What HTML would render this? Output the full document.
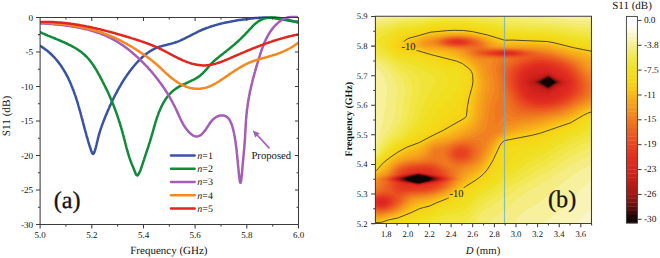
<!DOCTYPE html><html><head><meta charset="utf-8"><style>html,body{margin:0;padding:0;background:#fff;overflow:hidden}svg{display:block}text{font-family:"Liberation Serif",serif;fill:#141414;stroke:#141414;stroke-width:0px;text-rendering:geometricPrecision}</style></head><body>
<svg width="660" height="258" viewBox="0 0 660 258">
<defs><clipPath id="ca"><rect x="40" y="15.5" width="258" height="208.5"/></clipPath><clipPath id="cb"><rect x="375.5" y="16.5" width="216.1" height="207.1"/></clipPath></defs>
<g clip-path="url(#ca)" fill="none" stroke-width="2.5" stroke-linejoin="round" stroke-linecap="round">
<path stroke="#3953a4" d="M39.9 45.7 L41.0 46.4 L42.2 47.1 L43.3 47.9 L44.5 48.7 L45.5 49.5 L46.6 50.3 L47.7 51.1 L48.7 52.0 L49.7 52.9 L50.7 53.8 L51.7 54.7 L52.6 55.6 L53.5 56.6 L54.4 57.5 L55.3 58.5 L56.2 59.5 L57.0 60.5 L57.9 61.6 L58.7 62.6 L59.5 63.7 L60.3 64.8 L61.0 65.8 L61.8 67.0 L62.5 68.1 L63.2 69.2 L63.9 70.3 L64.6 71.5 L65.3 72.6 L65.9 73.8 L66.5 75.0 L67.2 76.2 L67.8 77.3 L68.4 78.5 L68.9 79.8 L69.5 81.0 L70.1 82.2 L70.6 83.4 L71.1 84.6 L71.6 85.9 L72.1 87.1 L72.6 88.4 L73.1 89.6 L73.6 90.8 L74.0 92.1 L74.5 93.4 L74.9 94.6 L75.4 95.9 L75.8 97.1 L76.2 98.4 L76.6 99.7 L77.0 100.9 L77.4 102.2 L77.8 103.5 L78.2 104.8 L78.5 106.0 L78.9 107.3 L79.3 108.6 L79.6 109.9 L80.0 111.2 L80.4 112.4 L80.7 113.7 L81.0 115.0 L81.4 116.3 L81.7 117.6 L82.1 118.9 L82.4 120.2 L82.8 121.5 L83.1 122.8 L83.5 124.1 L83.8 125.4 L84.1 126.7 L84.5 128.0 L84.8 129.3 L85.2 130.6 L85.5 131.9 L85.9 133.2 L86.3 134.5 L86.6 135.8 L87.0 137.1 L87.4 138.4 L87.8 139.7 L88.1 141.0 L88.5 142.3 L88.9 143.6 L89.3 145.0 L89.7 146.3 L90.2 147.6 L90.6 148.9 L91.0 150.3 L91.5 151.5 L91.9 152.6 L92.4 153.5 L93.0 154.0 L93.7 153.4 L94.2 152.6 L94.6 151.5 L95.0 150.2 L95.4 148.9 L95.8 147.6 L96.1 146.2 L96.5 144.8 L96.8 143.4 L97.1 142.0 L97.5 140.6 L97.8 139.3 L98.1 137.9 L98.5 136.5 L98.9 135.2 L99.2 133.9 L99.6 132.6 L100.0 131.3 L100.4 130.0 L100.8 128.7 L101.3 127.4 L101.7 126.2 L102.1 124.9 L102.6 123.7 L103.1 122.4 L103.5 121.2 L104.0 120.0 L104.5 118.7 L105.0 117.5 L105.5 116.3 L106.0 115.1 L106.5 113.9 L107.0 112.7 L107.5 111.5 L108.0 110.3 L108.6 109.1 L109.1 107.9 L109.6 106.6 L110.2 105.4 L110.8 104.2 L111.3 103.0 L111.9 101.8 L112.4 100.6 L113.0 99.4 L113.6 98.2 L114.2 97.0 L114.8 95.8 L115.4 94.6 L116.0 93.5 L116.7 92.3 L117.3 91.1 L117.9 89.9 L118.6 88.7 L119.2 87.6 L119.9 86.4 L120.6 85.3 L121.2 84.1 L121.9 83.0 L122.6 81.8 L123.3 80.7 L124.1 79.5 L124.8 78.4 L125.5 77.3 L126.3 76.2 L127.0 75.1 L127.8 74.0 L128.6 72.9 L129.4 71.8 L130.2 70.7 L131.0 69.7 L131.8 68.6 L132.7 67.6 L133.5 66.5 L134.4 65.5 L135.2 64.5 L136.1 63.5 L137.0 62.5 L137.9 61.5 L138.9 60.5 L139.8 59.6 L140.7 58.6 L141.7 57.7 L142.7 56.8 L143.7 56.0 L144.7 55.1 L145.7 54.3 L146.8 53.5 L147.9 52.7 L148.9 52.0 L150.0 51.2 L151.2 50.6 L152.3 49.9 L153.5 49.3 L154.7 48.7 L155.9 48.2 L157.1 47.7 L158.3 47.2 L159.6 46.8 L160.9 46.4 L162.2 46.0 L163.5 45.6 L164.8 45.3 L166.1 45.0 L167.4 44.6 L168.7 44.3 L170.0 44.0 L171.3 43.6 L172.6 43.3 L173.9 42.9 L175.2 42.5 L176.5 42.0 L177.7 41.6 L179.0 41.1 L180.2 40.6 L181.4 40.0 L182.6 39.5 L183.8 38.9 L185.0 38.3 L186.2 37.7 L187.4 37.1 L188.6 36.5 L189.8 35.9 L190.9 35.3 L192.1 34.7 L193.3 34.1 L194.5 33.5 L195.7 32.8 L196.8 32.3 L198.0 31.7 L199.2 31.1 L200.5 30.5 L201.7 30.0 L202.9 29.5 L204.1 29.0 L205.4 28.5 L206.6 28.0 L207.9 27.6 L209.2 27.1 L210.4 26.7 L211.7 26.3 L213.0 25.9 L214.3 25.5 L215.6 25.1 L216.9 24.7 L218.2 24.4 L219.4 24.0 L220.7 23.7 L222.0 23.4 L223.3 23.1 L224.6 22.8 L225.9 22.5 L227.3 22.2 L228.6 22.0 L229.9 21.7 L231.2 21.5 L232.5 21.2 L233.8 21.0 L235.1 20.8 L236.4 20.5 L237.7 20.3 L239.0 20.1 L240.3 19.9 L241.7 19.7 L243.0 19.5 L244.3 19.4 L245.6 19.2 L246.9 19.0 L248.3 18.9 L249.6 18.7 L250.9 18.6 L252.3 18.4 L253.6 18.3 L254.9 18.1 L256.3 18.0 L257.6 17.9 L259.0 17.8 L260.3 17.7 L261.6 17.7 L263.0 17.6 L264.3 17.6 L265.6 17.6 L267.0 17.6 L268.3 17.7 L269.6 17.7 L271.0 17.8 L272.3 17.9 L273.6 18.1 L274.9 18.3 L276.2 18.5 L277.6 18.7 L278.9 18.9 L280.2 19.1 L281.5 19.3 L282.8 19.6 L284.1 19.8 L285.4 20.1 L286.8 20.3 L288.1 20.5 L289.4 20.7 L290.7 20.9 L292.0 21.1 L293.3 21.3 L294.7 21.4 L296.0 21.5 L297.3 21.6 L298.0 21.7"/>
<path stroke="#0f8b3a" d="M40.3 32.2 L41.5 32.8 L42.7 33.4 L44.0 33.9 L45.2 34.5 L46.5 35.0 L47.8 35.6 L49.1 36.1 L50.4 36.6 L51.8 37.2 L53.1 37.7 L54.4 38.3 L55.8 38.8 L57.1 39.4 L58.5 39.9 L59.8 40.5 L61.2 41.1 L62.5 41.7 L63.9 42.2 L65.2 42.9 L66.6 43.5 L67.9 44.1 L69.2 44.8 L70.5 45.4 L71.8 46.1 L73.1 46.8 L74.3 47.5 L75.6 48.2 L76.8 49.0 L78.0 49.8 L79.2 50.6 L80.4 51.4 L81.5 52.3 L82.6 53.1 L83.7 54.1 L84.7 55.0 L85.7 56.0 L86.7 56.9 L87.7 58.0 L88.6 59.0 L89.5 60.1 L90.4 61.2 L91.2 62.3 L92.1 63.4 L92.9 64.6 L93.7 65.8 L94.5 67.0 L95.2 68.2 L96.0 69.4 L96.7 70.6 L97.4 71.8 L98.1 73.1 L98.8 74.4 L99.5 75.6 L100.2 76.9 L100.8 78.2 L101.5 79.4 L102.2 80.7 L102.8 82.0 L103.5 83.3 L104.1 84.6 L104.8 85.8 L105.4 87.1 L106.0 88.4 L106.7 89.7 L107.3 91.0 L107.9 92.3 L108.5 93.6 L109.1 94.9 L109.7 96.2 L110.3 97.5 L110.8 98.8 L111.4 100.2 L112.0 101.5 L112.5 102.8 L113.1 104.1 L113.6 105.5 L114.1 106.8 L114.6 108.1 L115.1 109.5 L115.6 110.8 L116.1 112.2 L116.6 113.5 L117.1 114.9 L117.5 116.2 L118.0 117.6 L118.4 118.9 L118.9 120.3 L119.3 121.7 L119.7 123.0 L120.2 124.4 L120.6 125.8 L121.0 127.1 L121.4 128.5 L121.8 129.9 L122.2 131.3 L122.6 132.6 L122.9 134.0 L123.3 135.4 L123.7 136.8 L124.0 138.1 L124.4 139.5 L124.8 140.9 L125.1 142.3 L125.5 143.7 L125.8 145.1 L126.2 146.4 L126.5 147.8 L126.9 149.2 L127.3 150.6 L127.7 151.9 L128.1 153.3 L128.5 154.7 L128.9 156.0 L129.3 157.4 L129.8 158.8 L130.3 160.1 L130.8 161.5 L131.3 162.8 L131.8 164.2 L132.4 165.5 L133.0 166.9 L133.5 168.3 L134.1 169.7 L134.7 171.2 L135.2 172.6 L135.8 174.0 L136.3 175.0 L137.3 175.5 L137.9 175.0 L138.6 174.0 L139.3 172.6 L140.0 171.2 L140.6 169.7 L141.1 168.2 L141.7 166.8 L142.1 165.3 L142.6 163.9 L143.1 162.4 L143.5 161.0 L144.0 159.6 L144.4 158.3 L144.9 156.9 L145.3 155.6 L145.8 154.2 L146.2 152.9 L146.6 151.6 L147.1 150.3 L147.5 149.0 L148.0 147.7 L148.4 146.4 L148.8 145.1 L149.2 143.7 L149.7 142.4 L150.1 141.1 L150.5 139.7 L150.9 138.4 L151.3 137.0 L151.7 135.6 L152.1 134.2 L152.5 132.9 L152.9 131.4 L153.3 130.0 L153.7 128.6 L154.1 127.2 L154.5 125.8 L154.9 124.4 L155.3 123.0 L155.7 121.5 L156.2 120.1 L156.6 118.7 L157.1 117.3 L157.6 115.9 L158.1 114.6 L158.6 113.2 L159.1 111.8 L159.7 110.5 L160.2 109.2 L160.8 107.9 L161.4 106.6 L162.1 105.3 L162.7 104.0 L163.4 102.8 L164.1 101.6 L164.9 100.4 L165.6 99.2 L166.4 98.1 L167.2 97.0 L168.1 95.9 L169.0 94.8 L169.9 93.8 L170.9 92.8 L171.9 91.9 L172.9 90.9 L174.0 90.1 L175.1 89.2 L176.3 88.4 L177.5 87.6 L178.7 86.9 L180.0 86.2 L181.3 85.5 L182.6 84.9 L183.9 84.2 L185.3 83.6 L186.6 83.0 L188.0 82.4 L189.3 81.7 L190.7 81.1 L192.0 80.4 L193.3 79.8 L194.6 79.1 L195.9 78.4 L197.1 77.7 L198.3 76.9 L199.5 76.1 L200.6 75.2 L201.6 74.3 L202.7 73.4 L203.6 72.4 L204.6 71.4 L205.5 70.3 L206.4 69.3 L207.4 68.2 L208.3 67.1 L209.2 66.0 L210.1 65.0 L211.1 63.9 L212.1 62.9 L213.1 61.9 L214.2 60.9 L215.3 59.9 L216.4 59.0 L217.6 58.1 L218.7 57.1 L219.9 56.2 L221.0 55.3 L222.1 54.4 L223.3 53.5 L224.4 52.6 L225.5 51.8 L226.6 50.9 L227.7 50.0 L228.8 49.1 L229.9 48.2 L231.0 47.3 L232.1 46.4 L233.2 45.5 L234.3 44.6 L235.3 43.7 L236.4 42.7 L237.5 41.8 L238.5 40.8 L239.5 39.9 L240.6 38.9 L241.6 37.9 L242.6 36.9 L243.6 35.9 L244.7 34.8 L245.7 33.7 L246.7 32.7 L247.7 31.6 L248.7 30.5 L249.7 29.4 L250.7 28.3 L251.7 27.3 L252.7 26.2 L253.7 25.2 L254.8 24.2 L255.9 23.3 L257.0 22.4 L258.1 21.6 L259.2 20.8 L260.4 20.1 L261.6 19.5 L262.9 19.0 L264.1 18.5 L265.4 18.2 L266.8 17.9 L268.2 17.7 L269.6 17.5 L271.0 17.4 L272.4 17.4 L273.9 17.5 L275.3 17.5 L276.8 17.7 L278.3 17.9 L279.8 18.1 L281.3 18.4 L282.7 18.7 L284.2 19.0 L285.7 19.3 L287.1 19.7 L288.6 20.0 L290.0 20.4 L291.3 20.8 L292.7 21.2 L294.0 21.6 L295.3 21.9 L296.6 22.3 L297.8 22.6 L297.8 22.6"/>
<path stroke="#a65db5" d="M40.0 23.3 L40.9 23.4 L41.7 23.4 L42.5 23.5 L43.3 23.5 L44.1 23.6 L45.0 23.6 L45.8 23.7 L46.6 23.7 L47.5 23.8 L48.3 23.8 L49.1 23.9 L50.0 23.9 L50.8 24.0 L51.6 24.1 L52.5 24.1 L53.3 24.2 L54.1 24.3 L55.0 24.4 L55.8 24.4 L56.7 24.5 L57.5 24.6 L58.3 24.7 L59.2 24.8 L60.0 24.8 L60.9 24.9 L61.7 25.0 L62.6 25.1 L63.4 25.2 L64.2 25.3 L65.1 25.4 L65.9 25.5 L66.8 25.7 L67.6 25.8 L68.5 25.9 L69.3 26.0 L70.1 26.1 L71.0 26.3 L71.8 26.4 L72.7 26.5 L73.5 26.7 L74.3 26.8 L75.2 26.9 L76.0 27.1 L76.8 27.3 L77.7 27.4 L78.5 27.6 L79.4 27.7 L80.2 27.9 L81.0 28.1 L81.8 28.3 L82.7 28.4 L83.5 28.6 L84.3 28.8 L85.2 29.0 L86.0 29.2 L86.8 29.4 L87.6 29.6 L88.4 29.8 L89.3 30.1 L90.1 30.3 L90.9 30.5 L91.7 30.7 L92.5 31.0 L93.3 31.2 L94.1 31.5 L94.9 31.7 L95.7 32.0 L96.5 32.3 L97.3 32.5 L98.1 32.8 L98.9 33.1 L99.7 33.4 L100.5 33.7 L101.3 34.0 L102.1 34.3 L102.8 34.6 L103.6 34.9 L104.4 35.2 L105.2 35.5 L105.9 35.9 L106.7 36.2 L107.4 36.6 L108.2 36.9 L109.0 37.3 L109.7 37.6 L110.5 38.0 L111.2 38.4 L112.0 38.8 L112.7 39.2 L113.4 39.6 L114.2 40.0 L114.9 40.4 L115.6 40.8 L116.3 41.2 L117.1 41.7 L117.8 42.1 L118.5 42.5 L119.2 43.0 L119.9 43.4 L120.6 43.9 L121.3 44.4 L122.0 44.8 L122.7 45.3 L123.4 45.8 L124.1 46.3 L124.8 46.8 L125.4 47.3 L126.1 47.8 L126.8 48.3 L127.4 48.8 L128.1 49.3 L128.8 49.8 L129.4 50.3 L130.1 50.9 L130.8 51.4 L131.4 51.9 L132.1 52.5 L132.7 53.0 L133.3 53.6 L134.0 54.1 L134.6 54.7 L135.2 55.2 L135.9 55.8 L136.5 56.4 L137.1 56.9 L137.8 57.5 L138.4 58.1 L139.0 58.6 L139.6 59.2 L140.2 59.8 L140.8 60.4 L141.4 61.0 L142.0 61.6 L142.6 62.2 L143.2 62.8 L143.8 63.4 L144.4 64.0 L145.0 64.6 L145.6 65.2 L146.1 65.8 L146.7 66.4 L147.3 67.0 L147.9 67.6 L148.4 68.3 L149.0 68.9 L149.6 69.5 L150.1 70.1 L150.7 70.8 L151.2 71.4 L151.8 72.0 L152.3 72.7 L152.9 73.3 L153.4 74.0 L153.9 74.6 L154.5 75.2 L155.0 75.9 L155.5 76.6 L156.0 77.2 L156.6 77.9 L157.1 78.5 L157.6 79.2 L158.1 79.9 L158.6 80.5 L159.1 81.2 L159.6 81.9 L160.1 82.6 L160.6 83.2 L161.1 83.9 L161.6 84.6 L162.1 85.3 L162.6 86.0 L163.0 86.7 L163.5 87.4 L164.0 88.1 L164.4 88.7 L164.9 89.5 L165.4 90.2 L165.8 90.9 L166.3 91.6 L166.7 92.3 L167.2 93.0 L167.6 93.7 L168.0 94.4 L168.5 95.1 L168.9 95.9 L169.3 96.6 L169.8 97.3 L170.2 98.1 L170.6 98.8 L171.0 99.5 L171.4 100.3 L171.8 101.0 L172.2 101.7 L172.6 102.5 L173.0 103.2 L173.4 104.0 L173.8 104.7 L174.2 105.5 L174.6 106.3 L174.9 107.0 L175.3 107.8 L175.7 108.5 L176.1 109.3 L176.4 110.1 L176.8 110.8 L177.1 111.6 L177.5 112.4 L177.8 113.2 L178.2 113.9 L178.5 114.7 L178.9 115.5 L179.2 116.3 L179.6 117.0 L179.9 117.8 L180.3 118.6 L180.7 119.3 L181.0 120.1 L181.4 120.9 L181.8 121.6 L182.2 122.4 L182.6 123.1 L183.0 123.8 L183.4 124.6 L183.8 125.3 L184.3 126.0 L184.7 126.7 L185.2 127.4 L185.7 128.1 L186.2 128.8 L186.7 129.4 L187.2 130.1 L187.8 130.8 L188.3 131.4 L188.9 132.0 L189.5 132.6 L190.1 133.2 L190.7 133.8 L191.4 134.3 L192.0 134.8 L192.7 135.3 L194.1 136.0 L195.5 136.4 L196.9 136.5 L198.3 136.2 L199.7 135.6 L201.1 134.8 L201.7 134.2 L202.3 133.6 L203.0 133.0 L203.6 132.3 L204.1 131.6 L204.7 130.9 L205.2 130.2 L205.8 129.4 L206.3 128.7 L206.8 127.9 L207.3 127.1 L207.8 126.4 L208.3 125.6 L208.8 124.8 L209.3 124.1 L209.8 123.3 L210.3 122.6 L210.9 121.9 L211.4 121.2 L212.0 120.6 L212.6 119.9 L213.2 119.3 L213.9 118.7 L214.5 118.2 L215.2 117.7 L215.9 117.2 L216.6 116.8 L217.3 116.5 L218.1 116.2 L218.9 115.9 L220.4 115.5 L222.0 115.4 L223.5 115.5 L224.9 115.9 L226.3 116.5 L227.5 117.4 L228.6 118.5 L229.1 119.2 L229.5 119.9 L230.0 120.6 L230.4 121.4 L230.7 122.2 L231.1 123.0 L231.4 123.9 L231.8 124.7 L232.1 125.6 L232.3 126.4 L232.6 127.3 L232.8 128.2 L233.1 129.0 L233.3 129.9 L233.5 130.8 L233.7 131.6 L233.9 132.5 L234.1 133.3 L234.2 134.2 L234.4 135.1 L234.6 135.9 L234.7 136.7 L234.8 137.6 L235.0 138.4 L235.1 139.2 L235.2 140.0 L235.4 140.8 L235.5 141.7 L235.6 142.5 L235.7 143.3 L235.8 144.1 L235.9 144.9 L236.1 146.4 L236.3 148.0 L236.5 149.6 L236.7 151.1 L236.8 152.7 L237.0 154.3 L237.1 155.1 L237.2 155.9 L237.3 156.7 L237.3 157.5 L237.4 158.3 L237.5 159.2 L237.6 160.1 L237.7 160.9 L237.8 161.8 L237.9 162.7 L237.9 163.7 L238.0 164.6 L238.1 165.6 L238.2 166.6 L238.3 167.6 L238.4 168.6 L238.5 169.7 L238.6 170.8 L238.7 171.8 L238.8 172.9 L238.9 174.0 L239.0 175.0 L239.2 176.1 L239.3 177.0 L239.4 178.0 L239.5 178.9 L239.6 179.7 L239.8 181.1 L240.1 182.1 L240.5 182.8 L240.8 182.0 L241.1 180.9 L241.3 179.5 L241.4 178.6 L241.5 177.7 L241.6 176.8 L241.7 175.8 L241.8 174.8 L241.9 173.7 L242.0 172.6 L242.1 171.6 L242.2 170.5 L242.3 169.4 L242.4 168.3 L242.5 167.3 L242.6 166.3 L242.6 165.2 L242.7 164.3 L242.8 163.3 L242.9 162.3 L243.0 161.4 L243.1 160.5 L243.2 159.5 L243.3 158.7 L243.3 157.8 L243.4 156.9 L243.5 156.0 L243.6 155.2 L243.6 154.4 L243.7 153.5 L243.8 152.7 L243.9 151.9 L243.9 151.1 L244.0 150.3 L244.2 148.7 L244.3 147.1 L244.4 145.6 L244.5 144.0 L244.7 142.5 L244.8 141.0 L244.9 139.4 L245.0 137.8 L245.1 136.2 L245.1 135.4 L245.2 134.6 L245.2 133.8 L245.3 132.9 L245.3 132.1 L245.4 131.2 L245.4 130.4 L245.5 129.5 L245.5 128.7 L245.6 127.8 L245.6 126.9 L245.7 126.0 L245.7 125.2 L245.8 124.3 L245.8 123.4 L245.9 122.5 L245.9 121.7 L246.0 120.8 L246.0 119.9 L246.1 119.1 L246.2 118.2 L246.3 117.3 L246.3 116.5 L246.4 115.6 L246.5 114.8 L246.6 113.9 L246.7 113.1 L246.8 112.2 L246.8 111.4 L246.9 110.6 L247.0 109.7 L247.1 108.9 L247.3 108.0 L247.4 107.2 L247.5 106.4 L247.6 105.5 L247.7 104.7 L247.8 103.9 L248.0 103.1 L248.1 102.2 L248.2 101.4 L248.4 100.6 L248.5 99.8 L248.6 99.0 L248.8 98.1 L248.9 97.3 L249.1 96.5 L249.2 95.7 L249.4 94.9 L249.6 94.1 L249.7 93.2 L249.9 92.4 L250.0 91.6 L250.2 90.8 L250.4 90.0 L250.6 89.2 L250.8 88.4 L250.9 87.5 L251.1 86.7 L251.3 85.9 L251.5 85.1 L251.7 84.3 L251.9 83.5 L252.1 82.7 L252.3 81.8 L252.5 81.0 L252.7 80.2 L252.9 79.4 L253.1 78.6 L253.3 77.8 L253.5 77.0 L253.8 76.2 L254.0 75.3 L254.2 74.5 L254.4 73.7 L254.6 72.9 L254.9 72.1 L255.1 71.3 L255.3 70.5 L255.6 69.7 L255.8 68.9 L256.0 68.0 L256.3 67.2 L256.5 66.4 L256.7 65.6 L257.0 64.8 L257.2 64.0 L257.4 63.2 L257.7 62.4 L257.9 61.6 L258.2 60.8 L258.4 59.9 L258.7 59.1 L258.9 58.3 L259.2 57.5 L259.4 56.7 L259.7 55.9 L259.9 55.1 L260.2 54.3 L260.4 53.5 L260.7 52.7 L261.0 51.9 L261.2 51.1 L261.5 50.3 L261.8 49.5 L262.1 48.7 L262.4 47.9 L262.7 47.1 L263.0 46.3 L263.3 45.6 L263.6 44.8 L263.9 44.0 L264.2 43.2 L264.5 42.4 L264.9 41.7 L265.2 40.9 L265.6 40.2 L265.9 39.4 L266.3 38.6 L266.7 37.9 L267.1 37.2 L267.5 36.4 L267.9 35.7 L268.3 34.9 L268.7 34.2 L269.2 33.5 L269.6 32.8 L270.1 32.1 L270.5 31.4 L271.0 30.7 L271.5 30.0 L272.0 29.3 L272.5 28.6 L273.1 28.0 L273.6 27.3 L274.1 26.7 L274.7 26.0 L275.3 25.4 L275.9 24.8 L276.5 24.2 L277.1 23.7 L277.7 23.1 L278.3 22.6 L279.0 22.1 L279.6 21.6 L280.3 21.1 L281.0 20.6 L281.7 20.2 L282.4 19.7 L283.1 19.4 L283.8 19.0 L284.5 18.6 L285.3 18.3 L286.1 18.0 L286.8 17.7 L287.6 17.5 L288.4 17.3 L289.3 17.1 L290.1 17.0 L290.9 16.8 L291.8 16.8 L292.6 16.7 L293.5 16.7 L294.4 16.7 L295.3 16.7 L296.2 16.8 L297.2 16.9 L298.1 17.1 L298.1 17.1"/>
<path stroke="#f5891f" d="M40.0 22.6 L40.9 22.6 L41.9 22.7 L42.9 22.7 L43.8 22.8 L44.8 22.8 L45.7 22.9 L46.7 22.9 L47.7 23.0 L48.6 23.0 L49.6 23.1 L50.6 23.1 L51.5 23.2 L52.5 23.3 L53.4 23.3 L54.4 23.4 L55.4 23.5 L56.3 23.6 L57.3 23.7 L58.2 23.8 L59.2 23.8 L60.1 23.9 L61.1 24.0 L62.1 24.1 L63.0 24.3 L64.0 24.4 L64.9 24.5 L65.9 24.6 L66.8 24.7 L67.8 24.9 L68.7 25.0 L69.7 25.1 L70.6 25.3 L71.6 25.4 L72.5 25.6 L73.5 25.7 L74.4 25.9 L75.4 26.0 L76.3 26.2 L77.2 26.4 L78.2 26.5 L79.1 26.7 L80.1 26.9 L81.0 27.1 L81.9 27.3 L82.9 27.5 L83.8 27.7 L84.7 27.9 L85.7 28.1 L86.6 28.3 L87.5 28.5 L88.5 28.8 L89.4 29.0 L90.3 29.2 L91.2 29.5 L92.2 29.7 L93.1 30.0 L94.0 30.2 L94.9 30.5 L95.8 30.8 L96.7 31.1 L97.7 31.3 L98.6 31.6 L99.5 31.9 L100.4 32.2 L101.3 32.5 L102.2 32.8 L103.1 33.1 L104.0 33.5 L104.9 33.8 L105.8 34.1 L106.7 34.5 L107.6 34.8 L108.5 35.2 L109.4 35.5 L110.2 35.9 L111.1 36.2 L112.0 36.6 L112.9 37.0 L113.8 37.4 L114.6 37.8 L115.5 38.2 L116.4 38.6 L117.3 39.0 L118.1 39.4 L119.0 39.9 L119.9 40.3 L120.7 40.7 L121.6 41.2 L122.4 41.6 L123.3 42.1 L124.1 42.5 L125.0 43.0 L125.8 43.4 L126.7 43.9 L127.5 44.4 L128.4 44.9 L129.2 45.3 L130.0 45.8 L130.9 46.3 L131.7 46.8 L132.5 47.3 L133.3 47.8 L134.2 48.3 L135.0 48.8 L135.8 49.3 L136.6 49.9 L137.4 50.4 L138.2 50.9 L139.0 51.4 L139.8 51.9 L140.6 52.5 L141.4 53.0 L142.2 53.5 L143.0 54.1 L143.8 54.6 L144.6 55.1 L145.4 55.7 L146.2 56.2 L146.9 56.8 L147.7 57.4 L148.5 57.9 L149.2 58.5 L150.0 59.1 L150.7 59.6 L151.5 60.2 L152.2 60.8 L153.0 61.4 L153.7 62.0 L154.4 62.6 L155.1 63.2 L155.9 63.8 L156.6 64.4 L157.3 65.0 L158.0 65.7 L158.7 66.3 L159.4 67.0 L160.1 67.6 L160.8 68.2 L161.5 68.9 L162.1 69.6 L162.8 70.2 L163.5 70.9 L164.2 71.5 L164.9 72.2 L165.6 72.8 L166.3 73.5 L167.0 74.1 L167.8 74.8 L168.5 75.4 L169.2 76.0 L170.0 76.7 L170.7 77.3 L171.5 77.9 L172.2 78.5 L173.0 79.1 L173.8 79.7 L174.6 80.3 L175.4 80.8 L176.2 81.4 L177.0 81.9 L177.8 82.5 L178.7 83.0 L179.5 83.5 L180.4 84.0 L181.2 84.4 L182.1 84.9 L183.0 85.3 L183.8 85.7 L184.7 86.1 L185.6 86.5 L186.5 86.8 L187.4 87.1 L188.3 87.4 L189.2 87.7 L190.1 87.9 L191.0 88.1 L192.0 88.3 L192.9 88.5 L193.8 88.6 L194.7 88.7 L195.7 88.8 L196.6 88.8 L197.5 88.8 L198.5 88.8 L199.4 88.8 L200.3 88.7 L201.3 88.6 L202.2 88.5 L203.1 88.3 L204.0 88.1 L204.9 87.9 L205.9 87.7 L206.8 87.4 L207.6 87.1 L208.5 86.8 L209.4 86.5 L210.3 86.1 L211.2 85.7 L212.0 85.3 L212.9 84.9 L213.7 84.4 L214.6 84.0 L215.4 83.5 L216.3 83.0 L217.1 82.5 L217.9 82.0 L218.8 81.5 L219.6 80.9 L220.4 80.4 L221.2 79.9 L222.1 79.3 L222.9 78.8 L223.7 78.2 L224.5 77.7 L225.3 77.1 L226.1 76.6 L226.9 76.0 L227.7 75.5 L228.5 74.9 L229.3 74.4 L230.1 73.8 L230.9 73.3 L231.7 72.7 L232.5 72.2 L233.3 71.7 L234.1 71.1 L234.9 70.6 L235.7 70.1 L236.6 69.6 L237.4 69.1 L238.2 68.5 L239.0 68.0 L239.8 67.6 L240.6 67.1 L241.5 66.6 L242.3 66.1 L243.1 65.7 L243.9 65.2 L244.8 64.8 L245.6 64.3 L246.5 63.9 L247.3 63.5 L248.2 63.1 L249.1 62.7 L249.9 62.4 L250.8 62.0 L251.7 61.7 L252.6 61.3 L253.5 61.0 L254.4 60.7 L255.3 60.4 L256.2 60.1 L257.1 59.8 L258.0 59.5 L258.9 59.2 L259.9 59.0 L260.8 58.7 L261.7 58.5 L262.6 58.2 L263.6 57.9 L264.5 57.7 L265.4 57.4 L266.3 57.2 L267.3 56.9 L268.2 56.7 L269.1 56.4 L270.0 56.1 L271.0 55.9 L271.9 55.6 L272.8 55.3 L273.7 55.1 L274.6 54.8 L275.5 54.5 L276.4 54.2 L277.3 53.9 L278.2 53.5 L279.1 53.2 L280.0 52.9 L280.9 52.5 L281.7 52.2 L282.6 51.8 L283.5 51.4 L284.3 51.0 L285.2 50.6 L286.1 50.2 L286.9 49.8 L287.8 49.4 L288.6 48.9 L289.4 48.5 L290.3 48.0 L291.1 47.5 L291.9 47.0 L292.7 46.5 L293.6 46.0 L294.4 45.5 L295.2 44.9 L296.0 44.4 L296.8 43.8 L297.6 43.2 L298.0 42.9"/>
<path stroke="#e2261f" d="M40.0 21.9 L40.9 21.9 L41.8 21.9 L42.7 21.9 L43.6 21.9 L44.5 21.9 L45.4 21.9 L46.4 21.9 L47.3 21.9 L48.2 21.9 L49.1 21.9 L50.0 22.0 L50.9 22.0 L51.8 22.0 L52.7 22.1 L53.6 22.1 L54.5 22.2 L55.4 22.2 L56.3 22.3 L57.2 22.4 L58.1 22.4 L59.0 22.5 L59.9 22.6 L60.8 22.6 L61.7 22.7 L62.6 22.8 L63.5 22.9 L64.4 23.0 L65.3 23.1 L66.2 23.2 L67.1 23.3 L68.0 23.4 L68.9 23.5 L69.8 23.6 L70.7 23.7 L71.6 23.9 L72.5 24.0 L73.4 24.1 L74.3 24.2 L75.2 24.4 L76.1 24.5 L77.0 24.7 L77.9 24.8 L78.7 25.0 L79.6 25.1 L80.5 25.3 L81.4 25.4 L82.3 25.6 L83.2 25.7 L84.1 25.9 L85.0 26.1 L85.9 26.2 L86.7 26.4 L87.6 26.6 L88.5 26.8 L89.4 27.0 L90.3 27.1 L91.2 27.3 L92.1 27.5 L92.9 27.7 L93.8 27.9 L94.7 28.1 L95.6 28.3 L96.5 28.5 L97.3 28.7 L98.2 28.9 L99.1 29.1 L100.0 29.3 L100.9 29.6 L101.7 29.8 L102.6 30.0 L103.5 30.2 L104.4 30.4 L105.2 30.7 L106.1 30.9 L107.0 31.1 L107.9 31.3 L108.7 31.6 L109.6 31.8 L110.5 32.0 L111.4 32.3 L112.2 32.5 L113.1 32.8 L114.0 33.0 L114.9 33.2 L115.7 33.5 L116.6 33.7 L117.5 34.0 L118.3 34.2 L119.2 34.5 L120.1 34.7 L120.9 35.0 L121.8 35.2 L122.7 35.5 L123.5 35.7 L124.4 36.0 L125.3 36.3 L126.1 36.5 L127.0 36.8 L127.9 37.0 L128.7 37.3 L129.6 37.6 L130.5 37.8 L131.3 38.1 L132.2 38.4 L133.0 38.6 L133.9 38.9 L134.8 39.2 L135.6 39.4 L136.5 39.7 L137.3 40.0 L138.2 40.3 L139.0 40.5 L139.9 40.8 L140.7 41.1 L141.6 41.4 L142.5 41.7 L143.3 42.0 L144.2 42.3 L145.0 42.6 L145.8 42.9 L146.7 43.2 L147.5 43.5 L148.4 43.8 L149.2 44.1 L150.1 44.5 L150.9 44.8 L151.7 45.1 L152.6 45.5 L153.4 45.8 L154.2 46.2 L155.1 46.5 L155.9 46.9 L156.7 47.2 L157.6 47.6 L158.4 48.0 L159.2 48.4 L160.0 48.8 L160.9 49.2 L161.7 49.6 L162.5 50.0 L163.3 50.4 L164.1 50.8 L164.9 51.2 L165.7 51.7 L166.6 52.1 L167.4 52.5 L168.2 52.9 L169.0 53.4 L169.8 53.8 L170.6 54.2 L171.4 54.7 L172.2 55.1 L173.0 55.5 L173.8 56.0 L174.7 56.4 L175.5 56.8 L176.3 57.2 L177.1 57.6 L177.9 58.0 L178.7 58.5 L179.6 58.8 L180.4 59.2 L181.2 59.6 L182.0 60.0 L182.9 60.4 L183.7 60.7 L184.5 61.1 L185.4 61.4 L186.2 61.7 L187.1 62.0 L187.9 62.4 L188.8 62.6 L189.6 62.9 L190.5 63.2 L191.3 63.5 L192.2 63.7 L193.1 63.9 L193.9 64.1 L194.8 64.3 L195.7 64.5 L196.6 64.7 L197.4 64.8 L198.3 65.0 L199.2 65.1 L200.1 65.2 L201.0 65.2 L201.8 65.3 L202.7 65.4 L203.6 65.4 L204.5 65.4 L205.4 65.4 L206.2 65.3 L207.1 65.3 L208.0 65.2 L208.9 65.1 L209.7 65.0 L210.6 64.8 L211.5 64.7 L212.4 64.5 L213.2 64.3 L214.1 64.1 L215.0 63.9 L215.8 63.6 L216.7 63.4 L217.5 63.1 L218.4 62.8 L219.3 62.5 L220.1 62.2 L221.0 61.9 L221.8 61.6 L222.7 61.3 L223.5 60.9 L224.4 60.6 L225.2 60.2 L226.1 59.9 L226.9 59.5 L227.8 59.2 L228.6 58.8 L229.5 58.4 L230.3 58.1 L231.1 57.7 L232.0 57.3 L232.8 57.0 L233.7 56.6 L234.5 56.2 L235.3 55.9 L236.2 55.5 L237.0 55.1 L237.9 54.8 L238.7 54.4 L239.5 54.1 L240.4 53.7 L241.2 53.3 L242.0 53.0 L242.9 52.6 L243.7 52.3 L244.5 51.9 L245.4 51.6 L246.2 51.2 L247.0 50.9 L247.9 50.5 L248.7 50.2 L249.5 49.8 L250.4 49.5 L251.2 49.2 L252.0 48.8 L252.9 48.5 L253.7 48.1 L254.5 47.8 L255.4 47.5 L256.2 47.2 L257.0 46.8 L257.9 46.5 L258.7 46.2 L259.6 45.9 L260.4 45.5 L261.2 45.2 L262.1 44.9 L262.9 44.6 L263.8 44.3 L264.6 44.0 L265.4 43.7 L266.3 43.4 L267.1 43.1 L268.0 42.8 L268.8 42.5 L269.7 42.2 L270.5 41.9 L271.4 41.6 L272.2 41.3 L273.1 41.0 L273.9 40.8 L274.8 40.5 L275.6 40.2 L276.5 40.0 L277.4 39.7 L278.2 39.4 L279.1 39.2 L280.0 38.9 L280.8 38.7 L281.7 38.4 L282.6 38.2 L283.4 37.9 L284.3 37.7 L285.2 37.4 L286.1 37.2 L286.9 37.0 L287.8 36.8 L288.7 36.5 L289.6 36.3 L290.5 36.1 L291.4 35.9 L292.3 35.7 L293.2 35.5 L294.1 35.3 L295.0 35.1 L295.9 34.9 L296.8 34.7 L297.7 34.5 L298.1 34.4"/>
</g>
<path fill="none" stroke="#3c3c3c" stroke-width="1.05" d="M40.1 17.4H298.5V224.4H40.1ZM40.1 224.4v4.0M65.9 224.4v2.2M65.9 17.4v2.0M91.8 224.4v4.0M91.8 17.4v3.5M117.6 224.4v2.2M117.6 17.4v2.0M143.5 224.4v4.0M143.5 17.4v3.5M169.3 224.4v2.2M169.3 17.4v2.0M195.1 224.4v4.0M195.1 17.4v3.5M221.0 224.4v2.2M221.0 17.4v2.0M246.8 224.4v4.0M246.8 17.4v3.5M272.7 224.4v2.2M272.7 17.4v2.0M298.5 224.4v4.0M40.1 17.4h-4.1M40.1 34.6h-2.2M298.5 34.6h-2.0M40.1 51.9h-4.1M298.5 51.9h-3.5M40.1 69.2h-2.2M298.5 69.2h-2.0M40.1 86.4h-4.1M298.5 86.4h-3.5M40.1 103.7h-2.2M298.5 103.7h-2.0M40.1 120.9h-4.1M298.5 120.9h-3.5M40.1 138.2h-2.2M298.5 138.2h-2.0M40.1 155.4h-4.1M298.5 155.4h-3.5M40.1 172.7h-2.2M298.5 172.7h-2.0M40.1 189.9h-4.1M298.5 189.9h-3.5M40.1 207.2h-2.2M298.5 207.2h-2.0M40.1 224.4h-4.1"/>
<text x="40.1" y="238.2" font-size="9" text-anchor="middle">5.0</text>
<text x="91.8" y="238.2" font-size="9" text-anchor="middle">5.2</text>
<text x="143.5" y="238.2" font-size="9" text-anchor="middle">5.4</text>
<text x="195.1" y="238.2" font-size="9" text-anchor="middle">5.6</text>
<text x="246.8" y="238.2" font-size="9" text-anchor="middle">5.8</text>
<text x="298.5" y="238.2" font-size="9" text-anchor="middle">6.0</text>
<text x="33.2" y="20.5" font-size="9.2" text-anchor="end">0</text>
<text x="33.2" y="55.0" font-size="9.2" text-anchor="end">-5</text>
<text x="33.2" y="89.5" font-size="9.2" text-anchor="end">-10</text>
<text x="33.2" y="124.0" font-size="9.2" text-anchor="end">-15</text>
<text x="33.2" y="158.5" font-size="9.2" text-anchor="end">-20</text>
<text x="33.2" y="193.0" font-size="9.2" text-anchor="end">-25</text>
<text x="33.2" y="227.5" font-size="9.2" text-anchor="end">-30</text>
<text x="168.9" y="254.3" font-size="11" text-anchor="middle">Frequency (GHz)</text>
<text transform="translate(9.9,116) rotate(-90)" font-size="11.2" text-anchor="middle">S11 (dB)</text>
<text x="53.8" y="207.5" font-size="24.2" style="stroke-width:0.3px">(a)</text>
<path stroke="#3953a4" stroke-width="2.5" stroke-linecap="round" d="M171 155.5H194.6"/>
<text x="197.3" y="158.9" font-size="10"><tspan font-style="italic">n</tspan>=1</text>
<path stroke="#0f8b3a" stroke-width="2.5" stroke-linecap="round" d="M171 168.8H194.6"/>
<text x="197.3" y="172.2" font-size="10"><tspan font-style="italic">n</tspan>=2</text>
<path stroke="#a65db5" stroke-width="2.5" stroke-linecap="round" d="M171 182.0H194.6"/>
<text x="197.3" y="185.4" font-size="10"><tspan font-style="italic">n</tspan>=3</text>
<path stroke="#f5891f" stroke-width="2.5" stroke-linecap="round" d="M171 195.2H194.6"/>
<text x="197.3" y="198.7" font-size="10"><tspan font-style="italic">n</tspan>=4</text>
<path stroke="#e2261f" stroke-width="2.5" stroke-linecap="round" d="M171 208.5H194.6"/>
<text x="197.3" y="211.9" font-size="10"><tspan font-style="italic">n</tspan>=5</text>
<path stroke="#a65db5" stroke-width="1.6" fill="none" d="M269.5 148.4L255.5 133.3"/>
<path fill="#a65db5" d="M252.6 130.4L259.6 133.2L255.3 137.4Z"/>
<text x="251.4" y="159.3" font-size="10.7">Proposed</text>
<g clip-path="url(#cb)">
<rect x="375.5" y="16.5" width="216.1" height="207.1" fill="#ffffff"/><path fill="#fefefe" fill-rule="evenodd" d="M374.5,14.5 593.5,14.5 593.5,225.5 373.5,225.5 373.5,14.5 374.5,14.5Z"/><path fill="#fefdf5" fill-rule="evenodd" d="M374.5,14.5 593.5,14.5 593.5,225.5 373.5,225.5 373.5,14.5 374.5,14.5Z"/><path fill="#fcfae0" fill-rule="evenodd" d="M374.5,14.5 593.5,14.5 593.5,225.5 373.5,225.5 373.5,14.5 374.5,14.5Z"/><path fill="#faf6cb" fill-rule="evenodd" d="M374.5,14.5 593.5,14.5 593.5,225.5 373.5,225.5 373.5,14.5 374.5,14.5Z"/><path fill="#f9f3b6" fill-rule="evenodd" d="M374.5,14.5 593.5,14.5 593.5,207.2 582.5,217.9 573.4,225.5 373.5,225.5 373.5,14.5 374.5,14.5Z"/><path fill="#f7f09d" fill-rule="evenodd" d="M383.5,15.5 402.7,14.5 556.2,14.5 576.5,15.9 593.5,15.8 593.5,179.7 587.4,183.5 581.6,188.5 577.0,193.5 569.5,203.3 565.0,207.5 549.5,219.1 537.7,225.5 373.5,225.5 373.5,109.1 374.9,100.5 375.3,93.5 374.8,87.5 373.5,82.7 373.5,16.6 383.5,15.5Z"/><path fill="#f5ed83" fill-rule="evenodd" d="M419.5,15.4 431.2,14.5 513.2,14.5 522.5,15.7 550.5,17.6 572.5,19.7 582.5,20.2 593.5,20.2 593.5,164.4 588.5,166.2 583.8,168.5 572.3,175.5 564.1,181.5 538.5,203.2 527.5,209.1 523.5,211.8 520.5,214.5 517.8,217.5 512.8,225.5 373.5,225.5 373.5,148.6 379.5,134.5 381.8,127.5 385.2,107.5 387.2,89.5 386.3,82.5 385.3,79.5 383.5,75.8 381.2,72.5 378.5,69.6 376.0,67.5 373.5,66.2 373.5,20.0 391.5,17.5 419.5,15.4Z"/><path fill="#f4ea6b" fill-rule="evenodd" d="M435.5,15.5 442.5,14.5 481.9,14.5 492.5,14.9 504.5,16.2 505.5,17.1 508.5,17.7 521.5,19.3 549.5,20.9 578.5,23.9 593.5,24.4 593.5,154.6 584.5,157.8 575.5,162.3 562.1,170.5 546.5,181.0 529.3,190.5 513.9,201.5 509.5,205.9 505.5,211.1 504.5,208.4 499.5,213.2 491.5,219.7 486.5,225.5 373.5,225.5 373.5,153.5 376.4,149.5 382.5,138.7 389.7,128.5 393.2,121.5 394.4,117.5 395.2,112.5 397.0,91.5 396.6,86.5 395.6,82.5 393.3,77.5 390.7,73.5 387.1,69.5 381.2,64.5 376.5,61.6 373.5,60.6 373.5,23.4 395.5,19.3 429.5,16.5 435.5,15.5Z"/><path fill="#f3e855" fill-rule="evenodd" d="M440.5,16.5 454.5,15.7 492.5,17.2 504.5,18.9 505.5,21.0 509.5,21.5 529.5,23.3 549.5,23.9 577.5,27.5 593.5,28.3 593.5,146.8 583.2,150.5 572.9,155.5 545.5,172.8 527.5,182.6 510.1,193.5 505.5,197.2 504.5,196.3 495.5,203.1 481.8,211.5 480.1,213.5 475.9,221.5 472.1,225.5 373.5,225.5 373.5,156.4 376.5,153.5 385.5,140.3 395.8,129.5 400.1,122.5 401.7,118.5 402.9,113.5 405.2,90.5 404.5,85.5 403.2,81.5 401.0,77.5 396.9,72.5 391.5,67.5 383.7,61.5 379.5,59.1 373.5,56.8 373.5,27.0 398.5,21.0 416.5,19.6 440.5,16.5Z"/><path fill="#f2e647" fill-rule="evenodd" d="M450.5,17.5 464.5,17.8 491.5,19.3 504.5,21.6 505.5,24.5 529.5,26.4 549.5,26.8 577.5,30.8 593.5,32.0 593.5,140.1 581.5,144.6 569.5,150.5 544.5,166.2 505.5,189.3 504.5,189.3 494.5,196.9 480.5,205.8 476.8,209.5 472.5,215.6 470.0,218.5 466.5,221.2 462.5,223.1 457.5,224.5 450.8,225.5 373.5,225.5 373.5,158.7 377.5,155.0 387.5,142.3 398.7,132.5 402.0,128.5 405.4,123.5 407.3,119.5 408.9,113.5 411.9,94.5 412.3,89.5 411.8,84.5 410.5,80.5 408.2,76.5 405.5,73.5 402.0,70.5 385.5,58.7 381.5,56.5 373.5,53.0 373.5,30.8 376.7,29.5 399.5,22.9 414.5,21.8 437.5,18.5 450.5,17.5Z"/><path fill="#f1e439" fill-rule="evenodd" d="M445.5,19.5 460.5,19.3 479.5,21.0 490.5,21.4 504.5,24.3 505.5,27.4 516.5,27.9 529.5,29.0 542.5,29.0 549.5,29.4 576.5,33.8 593.5,35.6 593.5,134.1 580.2,139.5 566.0,146.5 545.5,159.3 530.5,168.0 515.5,177.7 504.5,184.4 492.5,192.9 479.5,201.0 475.8,204.5 468.5,213.2 465.5,215.5 462.5,217.1 457.5,218.5 443.5,220.6 431.1,225.5 373.5,225.5 373.5,160.8 378.1,156.5 388.6,144.5 392.5,141.3 398.2,137.5 401.5,134.5 406.1,129.5 409.8,124.5 412.8,118.5 414.8,112.5 417.5,99.5 420.0,90.5 420.5,85.5 420.1,82.5 418.9,79.5 415.5,74.5 412.6,71.5 407.9,68.5 396.5,62.6 386.5,55.6 376.9,50.5 373.5,47.9 373.5,36.0 377.5,33.3 387.5,30.0 395.4,26.5 399.5,25.1 414.5,23.9 429.5,21.0 445.5,19.5Z"/><path fill="#f0e128" fill-rule="evenodd" d="M442.5,21.4 451.5,20.9 460.5,20.9 479.5,23.3 490.5,23.7 504.5,27.1 505.5,29.9 529.5,31.3 542.5,31.4 549.5,31.8 575.5,36.5 593.5,38.8 593.5,128.7 586.5,131.6 563.7,142.5 543.5,154.6 528.7,162.5 513.4,173.5 505.5,178.6 494.5,186.9 477.2,197.5 473.5,200.8 467.5,208.4 465.5,210.1 462.5,211.7 457.5,213.1 446.5,214.5 442.5,215.4 429.5,221.9 423.5,223.8 417.5,225.1 414.4,225.5 373.5,225.5 373.5,162.9 389.5,146.6 393.5,143.4 401.2,138.5 409.0,131.5 413.4,126.5 418.8,117.5 425.1,100.5 433.7,85.5 434.9,82.5 435.1,80.5 434.3,77.5 432.6,75.5 420.6,68.5 414.1,65.5 400.5,61.3 394.5,58.0 379.9,46.5 377.6,43.5 377.3,42.5 377.5,40.9 379.2,38.5 382.0,36.5 395.5,29.3 399.5,27.7 403.5,26.9 416.5,25.7 429.6,22.5 442.5,21.4Z"/><path fill="#f1de1e" fill-rule="evenodd" d="M439.5,23.4 453.5,22.6 462.5,22.8 479.5,25.5 491.5,26.5 504.5,29.9 505.5,32.1 528.5,33.4 543.5,33.6 549.5,34.0 574.5,39.0 593.5,41.7 593.5,123.7 588.5,125.8 576.5,132.2 558.6,140.5 540.5,150.5 530.5,154.5 525.5,157.1 518.5,162.5 510.7,169.5 504.5,173.9 495.5,181.8 487.5,187.1 472.5,195.8 468.7,199.5 465.2,204.5 462.5,206.3 457.5,207.8 441.5,211.4 429.5,218.1 424.5,219.9 418.5,221.5 399.2,225.5 373.5,225.5 373.5,164.9 391.5,147.4 403.7,139.5 413.0,132.5 417.3,128.5 424.3,119.5 430.5,107.8 433.5,103.0 445.7,88.5 447.3,85.5 448.0,82.5 447.6,78.5 446.4,75.5 443.9,72.5 440.5,70.2 430.5,66.7 419.5,62.2 415.5,61.1 402.5,58.9 398.5,57.4 395.5,55.7 391.4,52.5 387.7,48.5 385.8,44.5 385.7,41.5 386.6,39.5 389.5,36.5 395.5,32.4 400.5,30.1 404.5,29.2 417.5,27.6 430.5,24.0 439.5,23.4Z"/><path fill="#f3db1b" fill-rule="evenodd" d="M453.5,24.5 463.5,24.8 478.5,27.6 490.5,29.1 504.5,32.6 505.5,34.2 528.5,35.4 548.5,36.0 555.5,37.2 574.4,41.5 593.5,44.4 593.5,119.6 586.7,122.5 573.5,130.0 558.2,136.5 540.5,145.0 535.5,146.8 522.0,150.5 516.5,152.9 514.3,154.5 512.5,156.5 506.9,165.5 505.5,166.8 504.5,166.9 501.5,170.5 492.5,179.2 483.5,185.5 469.1,193.5 460.5,200.3 455.5,203.3 451.5,205.0 440.5,208.5 429.5,214.6 418.5,218.3 389.0,225.5 373.5,225.5 373.5,167.1 381.5,158.7 392.5,149.0 417.6,133.5 423.0,129.5 427.4,125.5 430.8,121.5 437.5,111.1 448.5,100.1 454.5,92.8 458.7,85.5 459.8,82.5 460.5,79.0 460.5,76.5 459.7,73.5 458.6,71.5 457.5,70.5 447.5,68.2 432.5,63.2 419.5,58.3 415.5,57.5 403.5,56.3 400.5,55.5 397.5,54.2 393.9,51.5 391.4,48.5 389.9,44.5 390.3,41.5 392.2,38.5 395.5,35.7 399.5,33.4 403.5,32.0 417.5,29.8 430.5,25.9 453.5,24.5Z"/><path fill="#f5d718" fill-rule="evenodd" d="M451.5,26.5 460.5,26.5 468.5,27.5 491.5,31.9 504.5,35.2 505.5,36.2 527.5,37.3 543.5,37.6 549.5,38.1 573.0,43.5 593.5,46.8 593.5,116.2 585.7,119.5 572.5,127.3 538.5,140.9 530.5,143.0 511.5,146.3 508.3,147.5 505.5,149.7 504.5,146.2 503.1,148.5 501.9,151.5 500.0,161.5 499.0,164.5 497.1,167.5 490.7,175.5 486.3,179.5 481.5,183.0 466.3,191.5 454.5,199.6 450.5,201.9 439.5,206.2 429.5,211.5 415.5,216.2 398.5,221.3 388.5,223.5 382.5,225.3 373.5,225.5 373.5,169.2 381.5,160.5 393.5,150.5 404.5,143.8 419.2,136.5 429.2,130.5 435.3,125.5 443.5,116.5 452.5,109.3 455.7,105.5 460.5,96.4 465.4,85.5 466.9,79.5 466.7,75.5 465.5,72.5 461.5,67.5 459.5,65.9 450.5,65.0 445.5,63.9 417.5,54.9 406.5,54.1 400.5,52.9 397.5,51.5 394.5,48.5 393.3,45.5 393.6,42.5 394.6,40.5 397.5,37.8 401.5,35.5 405.5,34.1 416.5,32.2 431.5,27.9 451.5,26.5Z"/><path fill="#f6d118" fill-rule="evenodd" d="M451.5,28.5 461.5,28.5 470.5,29.7 489.5,33.7 505.5,38.2 543.5,39.5 549.5,40.0 570.5,45.1 593.5,49.3 593.5,113.3 584.5,117.2 571.5,124.9 539.5,136.7 533.5,138.3 523.5,140.2 509.5,142.3 505.5,143.3 504.5,142.8 502.5,144.8 500.5,148.2 495.0,162.5 490.1,170.5 486.9,174.5 483.5,177.7 478.5,181.4 464.7,189.5 451.5,198.5 448.5,200.2 437.7,204.5 430.5,208.3 421.5,211.0 398.5,219.4 388.5,221.5 381.5,223.8 373.5,224.2 373.5,171.0 375.5,169.5 382.5,161.5 396.5,150.7 405.5,145.5 419.5,139.6 434.5,131.5 459.5,114.5 461.6,111.5 465.4,97.5 469.4,85.5 470.3,81.5 470.4,76.5 469.2,72.5 466.8,69.5 460.5,64.2 443.5,60.4 417.5,52.5 410.5,52.2 401.2,50.5 398.5,49.1 397.0,47.5 396.4,45.5 396.7,43.5 398.0,41.5 400.5,39.5 404.5,37.3 408.5,35.9 414.5,34.8 430.5,30.2 451.5,28.5Z"/><path fill="#f8ca18" fill-rule="evenodd" d="M449.5,30.5 461.5,30.4 470.5,31.3 483.5,33.9 504.5,40.2 541.5,41.1 548.5,41.7 555.5,43.1 568.5,46.6 593.5,51.8 593.5,110.9 589.2,112.5 582.9,115.5 570.5,122.8 541.5,132.7 532.5,135.2 504.5,140.6 501.5,143.1 499.8,145.5 492.9,160.5 487.3,169.5 484.5,172.9 477.5,178.8 464.5,187.2 450.5,196.8 447.5,198.4 437.2,202.5 430.5,205.7 420.5,208.3 410.5,212.9 397.5,218.1 388.5,219.9 381.5,222.3 373.5,222.5 373.5,172.5 376.5,170.5 383.7,162.5 390.1,157.5 398.5,151.8 406.5,147.4 419.5,142.5 431.5,136.1 445.0,129.5 464.5,118.3 466.3,116.5 466.8,114.5 467.4,107.5 469.0,98.5 472.0,87.5 473.0,82.5 472.6,74.5 471.5,71.6 470.1,69.5 462.5,63.6 456.5,61.1 429.5,54.2 417.5,50.6 410.5,50.2 402.5,47.5 400.5,46.5 400.2,45.5 400.7,44.5 405.1,40.5 409.5,38.0 430.5,32.2 449.5,30.5Z"/><path fill="#f8bf18" fill-rule="evenodd" d="M444.5,32.4 459.5,31.8 471.5,32.8 483.5,35.2 489.5,37.1 499.5,41.1 504.5,42.5 513.5,42.0 540.5,42.7 547.5,43.3 585.5,52.1 593.5,54.4 593.5,108.8 584.5,112.5 571.5,119.8 566.5,121.9 537.5,131.1 505.5,138.3 502.2,140.5 499.3,143.5 496.9,147.5 490.4,160.5 485.9,167.5 483.4,170.5 477.5,175.7 450.5,194.9 445.5,197.5 430.5,203.2 418.5,206.3 408.5,211.7 396.5,216.9 388.5,218.6 381.5,220.9 378.5,221.2 373.5,220.9 373.5,173.8 377.3,171.5 385.5,163.6 390.5,159.5 398.5,154.3 406.5,150.3 417.5,146.1 432.5,137.8 446.3,132.5 452.8,129.5 466.0,121.5 468.5,119.0 469.7,116.5 472.1,98.5 474.7,87.5 475.4,82.5 475.1,77.5 474.4,73.5 473.2,70.5 471.8,68.5 469.5,66.4 463.5,62.3 457.5,59.4 451.5,57.0 441.5,54.3 427.5,51.9 417.5,48.9 411.5,48.6 409.1,47.5 407.1,45.5 406.9,44.5 407.5,42.5 409.5,40.5 420.4,36.5 429.5,34.0 444.5,32.4Z"/><path fill="#f7b319" fill-rule="evenodd" d="M446.5,33.5 461.5,33.0 473.5,34.2 484.5,36.7 489.1,38.5 498.5,43.0 504.5,44.5 513.5,43.8 534.5,44.1 548.5,45.1 581.5,53.1 589.1,55.5 593.5,57.4 593.5,106.9 583.5,111.1 570.5,118.0 565.5,120.1 539.5,127.9 505.5,136.5 500.1,140.5 497.5,143.5 488.3,160.5 485.5,164.8 482.5,168.4 478.5,171.9 469.4,178.5 458.5,187.5 450.5,193.2 444.5,196.3 433.5,200.2 417.5,204.2 414.5,205.7 406.5,210.8 396.5,215.5 380.5,219.9 377.5,219.9 373.5,219.4 373.5,175.1 382.7,169.5 390.5,161.9 398.5,156.7 404.5,153.9 416.5,149.6 427.3,142.5 432.5,139.8 449.5,134.2 460.5,128.8 465.5,125.6 468.5,123.2 470.8,120.5 472.3,117.5 473.5,112.5 475.1,97.5 477.2,87.5 477.6,83.5 477.4,79.5 476.1,72.5 474.9,69.5 473.5,67.5 470.5,64.8 464.5,60.8 455.5,56.0 450.5,53.8 441.5,51.8 425.5,49.9 417.5,47.2 411.5,46.7 410.3,45.5 410.4,43.5 411.5,42.3 422.5,37.3 430.5,35.3 446.5,33.5Z"/><path fill="#f6a91a" fill-rule="evenodd" d="M446.5,34.4 454.5,33.9 462.5,33.9 470.5,34.6 476.5,35.7 484.5,37.9 488.1,39.5 496.5,44.3 501.5,45.6 504.5,45.9 514.5,45.3 535.5,45.5 548.5,46.7 554.5,47.9 579.5,54.5 589.6,58.5 593.5,60.8 593.5,104.9 581.5,110.2 569.5,116.4 564.5,118.4 541.5,125.0 519.5,130.4 505.5,134.8 499.2,139.5 496.4,142.5 486.3,160.5 482.5,165.7 478.5,169.2 468.5,176.3 457.5,186.5 450.5,191.7 444.5,194.9 435.5,198.1 429.5,199.8 419.5,201.5 416.1,202.5 412.5,204.5 404.1,210.5 395.5,214.6 380.5,218.7 377.5,218.7 373.5,217.9 373.5,176.6 376.5,174.5 384.5,170.8 391.2,163.5 394.5,161.1 398.5,158.8 404.5,156.3 414.5,153.5 417.5,152.2 420.5,150.2 427.4,144.5 432.5,141.5 436.5,140.1 449.9,136.5 457.2,133.5 463.1,130.5 467.5,127.6 470.5,125.0 473.3,121.5 474.8,118.5 476.1,113.5 477.8,97.5 479.7,88.5 480.1,84.5 479.8,80.5 477.8,71.5 475.5,66.9 473.2,64.5 469.5,61.8 457.5,54.4 453.8,52.5 445.1,50.5 424.5,48.3 422.2,47.5 418.8,45.5 417.6,44.5 417.2,43.5 417.6,42.5 419.5,40.5 424.5,38.0 430.5,36.6 446.5,34.4Z"/><path fill="#f5a01c" fill-rule="evenodd" d="M444.5,35.4 451.5,34.8 459.5,34.6 466.5,34.9 472.5,35.7 478.5,36.9 483.4,38.5 487.3,40.5 493.5,44.9 497.5,46.2 504.5,46.9 514.5,46.5 535.5,46.8 545.5,47.7 556.5,49.9 580.5,57.0 589.5,61.7 593.5,65.2 593.5,102.9 569.5,114.5 564.5,116.6 543.5,122.4 520.5,127.7 505.5,132.8 503.9,134.5 497.5,139.1 495.3,141.5 485.0,159.5 481.5,164.2 477.5,167.5 467.5,174.1 456.6,185.5 449.5,190.9 443.5,194.1 435.5,196.9 428.5,198.6 417.5,200.3 414.5,201.2 411.5,202.9 403.2,209.5 398.5,212.2 394.5,213.8 380.5,217.6 377.5,217.5 373.5,216.5 373.5,178.2 377.3,175.5 385.5,172.3 391.5,165.2 397.5,161.0 404.5,158.2 416.1,155.5 419.5,154.0 422.5,151.6 427.6,146.5 432.0,143.5 436.5,141.8 450.1,138.5 460.4,134.5 465.5,132.0 469.4,129.5 472.8,126.5 475.3,123.5 477.4,119.5 478.9,113.5 480.6,97.5 482.4,89.5 482.9,85.5 482.4,80.5 480.2,71.5 479.1,68.5 478.0,66.5 476.2,64.5 473.5,62.3 459.5,53.0 456.5,51.5 452.7,50.5 439.9,48.5 425.5,47.2 423.5,46.5 421.1,44.5 420.8,42.5 421.4,41.5 424.5,39.4 430.5,37.9 444.5,35.4Z"/><path fill="#f4961e" fill-rule="evenodd" d="M450.5,35.5 457.5,35.2 464.5,35.4 470.5,36.1 477.5,37.5 483.5,39.6 486.5,41.5 491.0,45.5 493.3,46.5 495.5,46.9 504.5,47.6 514.5,47.3 535.5,48.0 547.5,49.3 554.5,50.8 563.5,53.3 578.5,58.3 585.0,62.5 593.5,70.3 593.5,100.6 589.5,103.1 569.5,112.7 563.5,115.2 544.5,120.2 519.5,125.5 505.5,130.2 504.5,132.0 502.9,133.5 496.5,137.9 493.9,140.5 487.9,150.5 483.1,159.5 480.9,162.5 476.5,165.9 465.5,172.5 461.9,176.5 460.6,179.5 453.6,186.5 448.5,190.3 442.5,193.3 434.5,196.0 428.5,197.4 417.5,198.9 413.5,199.9 410.5,201.5 405.1,206.5 401.5,209.2 397.4,211.5 393.5,213.1 380.5,216.6 377.5,216.4 373.5,215.2 373.5,180.9 375.0,178.5 377.5,176.9 386.5,173.1 392.5,166.1 395.5,163.7 398.5,162.0 404.5,159.8 417.5,157.2 421.5,155.5 423.9,153.5 429.1,147.5 433.5,144.5 436.5,143.5 444.5,141.9 449.5,140.5 463.4,135.5 467.9,133.5 472.5,130.6 475.5,127.9 478.2,124.5 479.8,121.5 481.7,114.5 483.5,99.5 485.7,89.5 486.2,85.5 485.6,80.5 482.9,70.5 481.8,67.5 480.6,65.5 478.7,63.5 476.1,61.5 467.5,56.4 462.4,52.5 459.5,50.9 453.2,49.5 435.5,46.7 425.5,45.6 423.7,44.5 423.3,43.5 423.4,42.5 424.5,41.3 429.2,39.5 440.5,36.8 450.5,35.5Z"/><path fill="#f28c1f" fill-rule="evenodd" d="M446.5,36.5 458.5,35.7 470.5,36.7 476.5,38.0 481.5,39.7 484.4,41.5 488.5,45.7 489.6,46.5 492.5,47.3 504.5,48.1 517.5,48.1 534.5,49.0 542.5,49.8 555.5,52.3 565.5,55.3 573.5,58.1 577.5,60.0 581.1,62.5 590.5,71.7 593.5,75.3 593.5,97.6 591.5,99.7 588.9,101.5 569.5,111.1 562.5,113.9 544.5,118.3 518.5,123.1 505.5,126.5 504.5,129.2 501.6,132.5 494.5,137.0 492.0,139.5 486.2,149.5 482.3,157.5 480.5,160.5 475.5,164.4 465.6,169.5 462.7,171.5 461.1,173.5 459.4,176.5 459.4,178.5 458.8,179.5 456.4,181.5 452.9,185.5 448.5,189.0 442.5,192.3 434.5,195.0 427.5,196.5 415.5,198.0 411.5,199.1 408.5,201.2 401.5,207.7 397.1,210.5 392.5,212.4 380.5,215.5 377.5,215.2 373.5,213.9 373.5,184.6 376.9,178.5 378.6,177.5 384.7,175.5 386.6,174.5 388.5,172.7 393.5,166.8 396.5,164.5 399.5,162.9 406.5,160.6 419.1,158.5 423.5,156.7 426.2,154.5 430.6,148.5 433.5,146.3 436.5,145.2 446.5,143.2 457.5,139.2 466.8,136.5 471.6,134.5 475.5,132.2 478.7,129.5 481.2,126.5 482.7,123.5 484.6,116.5 486.6,101.5 489.6,90.5 490.2,86.5 489.7,80.5 485.5,65.8 484.5,64.0 482.9,62.5 469.5,55.9 467.6,54.5 464.5,51.5 462.8,50.5 458.9,49.5 441.5,46.9 428.5,43.5 428.1,42.5 429.5,41.5 434.0,39.5 440.5,37.6 446.5,36.5Z"/><path fill="#f18120" fill-rule="evenodd" d="M451.5,36.5 458.5,36.2 464.5,36.5 470.5,37.3 475.7,38.5 481.5,40.9 483.6,42.5 486.8,46.5 490.5,47.8 498.5,48.4 518.5,48.7 539.5,50.5 554.5,53.4 563.5,56.0 570.5,58.5 575.5,60.8 579.2,63.5 588.6,73.5 591.0,76.5 593.5,81.9 593.5,92.5 593.1,93.5 590.7,97.5 587.5,100.1 570.5,109.0 561.5,112.6 552.5,115.0 540.5,117.3 510.5,121.3 505.5,121.5 504.5,124.3 499.5,131.4 497.7,132.5 491.5,135.0 489.0,137.5 480.7,156.5 478.9,159.5 476.6,161.5 473.5,163.5 462.6,168.5 459.6,170.5 458.5,172.3 457.4,175.5 457.1,176.5 457.7,178.5 457.2,179.5 454.7,181.5 451.1,185.5 447.3,188.5 441.5,191.6 433.5,194.3 426.5,195.7 414.5,197.0 410.5,198.1 407.5,200.1 403.4,204.5 399.9,207.5 395.5,210.2 391.5,211.8 380.5,214.4 377.5,214.1 373.5,212.8 373.5,188.7 377.7,181.5 378.0,179.5 378.9,178.5 387.5,175.1 394.5,167.4 397.5,165.2 400.5,163.6 407.5,161.5 420.5,159.6 426.1,157.5 428.6,155.5 432.3,149.5 434.5,147.8 443.5,146.0 456.5,141.0 469.5,138.0 474.5,136.5 482.5,132.8 484.5,131.3 486.0,129.5 486.9,126.5 488.2,119.5 489.9,104.5 493.7,93.5 494.5,89.5 494.4,82.5 491.5,68.5 491.6,65.5 492.8,61.5 492.5,60.5 489.8,59.5 481.5,58.9 474.5,56.9 470.1,54.5 466.5,50.5 464.1,49.5 444.5,46.7 438.5,45.2 434.6,43.5 433.8,42.5 434.0,41.5 437.1,39.5 443.5,37.6 451.5,36.5Z"/><path fill="#ef7720" fill-rule="evenodd" d="M447.5,37.4 453.5,36.8 460.5,36.7 466.5,37.2 473.1,38.5 477.5,39.9 480.5,41.5 482.6,43.5 484.5,46.7 485.6,47.5 488.5,48.3 494.5,48.8 516.5,49.0 534.5,50.8 552.5,54.1 566.9,58.5 573.5,61.5 577.5,64.3 580.5,67.4 588.0,76.5 590.2,80.5 591.4,84.5 591.6,88.5 590.8,92.5 589.3,95.5 587.6,97.5 579.7,102.5 565.5,109.7 559.5,111.7 553.5,113.3 538.5,115.8 522.5,117.2 517.5,117.3 512.5,116.7 509.5,115.7 507.5,114.3 505.5,111.5 504.5,114.6 501.1,118.5 497.5,123.8 496.5,124.4 495.5,123.5 495.2,121.5 494.8,106.5 495.5,103.9 498.8,97.5 499.4,93.5 498.3,81.5 496.2,71.5 495.9,68.5 496.5,65.3 499.3,60.5 498.2,59.5 494.0,58.5 482.5,57.6 475.5,56.0 471.5,53.6 469.9,50.5 468.7,49.5 467.5,49.1 448.5,46.8 443.5,45.8 439.4,44.5 437.5,43.5 436.7,42.5 436.8,41.5 437.7,40.5 442.4,38.5 447.5,37.4ZM466.5,140.5 475.5,140.0 478.4,140.5 480.1,141.5 481.1,143.5 481.2,146.5 480.2,151.5 478.9,155.5 477.8,157.5 476.1,159.5 472.0,162.5 467.5,164.7 458.5,167.5 456.5,168.5 455.5,170.5 455.0,175.5 456.1,178.5 455.7,179.5 452.0,182.5 447.5,187.0 441.5,190.6 433.5,193.4 426.5,194.8 413.5,196.1 409.5,197.1 406.5,199.1 402.5,203.7 399.4,206.5 395.5,209.1 391.5,210.9 384.5,212.7 380.5,213.3 377.5,213.0 373.5,211.7 373.5,191.1 377.1,187.5 380.4,181.5 380.1,179.5 381.2,178.5 388.5,175.5 389.9,174.5 394.9,168.5 397.5,166.4 400.5,164.8 406.5,162.8 421.5,160.7 428.9,158.5 432.2,156.5 432.9,155.5 434.1,151.5 435.5,149.9 442.5,148.8 451.0,144.5 456.5,142.3 461.5,141.1 466.5,140.5Z"/><path fill="#ee6e20" fill-rule="evenodd" d="M450.5,37.5 456.5,37.1 462.5,37.3 468.5,38.1 474.1,39.5 476.6,40.5 479.7,42.5 480.6,43.5 482.5,47.5 485.5,48.6 492.5,49.2 514.5,49.4 526.4,50.5 533.2,51.5 551.5,55.1 559.5,57.2 566.0,59.5 572.2,62.5 576.3,65.5 580.1,69.5 585.5,76.5 587.6,80.5 588.8,84.5 589.0,88.5 588.1,92.5 585.4,96.5 580.0,100.5 568.5,106.9 559.5,110.3 549.5,112.6 537.5,114.2 522.5,114.6 519.5,114.3 516.5,113.5 514.5,112.5 511.9,110.5 510.4,108.5 508.9,105.5 505.8,95.5 504.5,93.9 503.1,89.5 499.5,70.5 499.6,67.5 501.0,64.5 504.5,61.8 505.5,63.3 508.4,60.5 508.1,59.5 505.5,58.6 504.5,59.2 493.1,57.5 479.5,56.1 476.5,55.2 473.7,53.5 473.1,52.5 472.9,49.5 471.6,48.5 467.5,47.9 451.5,46.7 445.5,45.7 441.7,44.5 439.8,43.5 438.9,42.5 438.9,41.5 439.8,40.5 444.5,38.6 450.5,37.5ZM461.5,142.4 465.5,142.2 470.2,142.5 473.5,143.3 475.5,144.5 477.0,146.5 477.7,149.5 477.4,152.5 476.4,155.5 475.2,157.5 472.5,160.2 469.5,162.1 466.5,163.4 462.5,164.6 458.5,165.1 455.5,165.0 452.5,164.2 449.5,162.0 445.7,157.5 444.2,154.5 444.2,152.5 446.3,149.5 450.5,146.3 455.5,143.9 461.5,142.4ZM429.5,160.4 433.5,160.1 437.5,161.0 444.9,165.5 448.5,167.2 451.0,169.5 452.5,172.5 452.8,175.5 454.6,178.5 454.2,179.5 450.2,182.5 447.5,185.5 441.6,189.5 433.5,192.5 425.5,194.0 411.5,195.3 408.5,196.2 405.1,198.5 401.0,203.5 397.6,206.5 393.5,209.1 390.5,210.3 384.5,211.9 380.5,212.4 377.5,212.1 373.5,210.6 373.5,192.6 378.2,189.5 380.0,187.5 382.8,182.5 383.1,181.5 382.4,179.5 383.5,178.5 389.9,175.5 391.3,174.5 396.5,168.5 399.5,166.4 402.5,165.0 409.5,163.2 420.5,161.9 429.5,160.4Z"/><path fill="#ec6520" fill-rule="evenodd" d="M447.5,38.4 457.5,37.5 467.9,38.5 471.8,39.5 476.3,41.5 477.5,42.5 478.5,44.5 478.2,45.5 477.5,46.2 473.5,46.8 458.5,46.8 448.5,45.7 443.8,44.5 441.8,43.5 440.8,42.5 440.8,41.5 441.7,40.5 443.7,39.5 447.5,38.4ZM477.5,49.5 479.5,48.8 487.5,49.6 511.5,49.6 521.5,50.4 528.6,51.5 552.5,56.6 564.5,60.2 570.5,63.1 574.5,65.9 578.0,69.5 582.6,75.5 584.9,79.5 586.4,84.5 586.6,88.5 585.9,91.5 583.4,95.5 577.2,100.5 567.5,105.9 558.5,109.3 548.5,111.4 537.5,112.6 526.5,112.4 522.5,111.8 519.5,110.9 516.9,109.5 514.5,107.4 512.3,104.5 510.4,100.5 505.5,88.5 502.5,70.5 502.8,67.5 504.3,65.5 505.5,67.2 508.1,64.5 513.1,60.5 513.5,59.5 511.4,58.5 505.5,57.7 503.5,57.9 485.5,56.2 479.5,55.2 476.5,53.8 475.4,52.5 475.5,51.5 476.2,50.5 477.5,49.5ZM458.5,144.2 462.5,143.7 466.5,143.8 470.5,144.9 473.0,146.5 474.8,149.5 475.0,152.5 474.1,155.5 471.8,158.5 469.2,160.5 466.5,161.9 460.5,163.3 457.5,163.2 454.5,162.4 452.5,161.3 450.4,159.5 448.2,156.5 447.5,154.5 447.5,152.5 448.3,150.5 450.0,148.5 452.5,146.7 458.5,144.2ZM424.5,162.4 430.5,161.9 435.5,162.7 439.5,164.5 445.9,168.5 449.2,171.5 450.3,173.5 450.7,175.5 452.7,177.5 453.1,178.5 452.8,179.5 451.7,180.5 448.6,182.5 445.7,185.5 443.0,187.5 439.3,189.5 435.5,191.0 427.5,192.9 411.5,194.4 407.3,195.5 404.1,197.5 400.2,202.5 397.1,205.5 393.5,208.0 390.5,209.4 384.5,211.1 380.5,211.5 377.5,211.1 373.5,209.7 373.5,193.9 380.1,190.5 382.8,188.5 385.8,182.5 384.6,180.5 384.5,179.5 385.4,178.5 392.8,174.5 397.0,169.5 399.5,167.6 402.5,166.1 410.5,164.0 424.5,162.4Z"/><path fill="#eb5b20" fill-rule="evenodd" d="M450.5,38.4 458.5,38.0 466.5,38.8 472.3,40.5 474.1,41.5 475.1,42.5 475.4,43.5 474.8,44.5 473.5,45.1 467.5,46.1 457.5,46.2 449.5,45.4 445.9,44.5 443.6,43.5 442.6,42.5 442.5,41.5 443.5,40.5 445.7,39.5 450.5,38.4ZM480.5,50.5 508.5,49.9 519.5,50.6 529.2,52.5 536.5,55.1 553.5,58.0 563.5,61.2 568.5,63.5 572.9,66.5 576.9,70.5 580.5,75.5 582.7,79.5 584.2,84.5 584.3,88.5 583.4,91.5 580.7,95.5 574.4,100.5 566.5,104.9 558.5,107.9 549.5,109.9 538.5,111.0 529.5,110.6 522.5,109.1 519.5,107.6 517.5,106.1 515.5,104.0 513.5,101.0 507.9,88.5 506.5,84.5 505.5,79.7 505.5,74.1 507.2,69.5 508.6,67.5 511.5,64.7 519.0,59.5 518.8,58.5 511.4,57.5 497.5,56.8 482.5,55.1 479.5,54.1 478.4,53.5 477.8,52.5 478.5,51.3 480.5,50.5ZM458.5,145.5 462.5,145.0 466.5,145.4 469.5,146.7 471.5,148.5 472.5,150.5 472.5,153.5 471.2,156.5 469.4,158.5 467.5,159.8 464.5,161.1 459.5,161.8 455.5,160.9 453.5,159.8 451.5,157.9 449.7,154.5 449.7,152.5 450.5,150.5 453.7,147.5 458.5,145.5ZM424.5,163.4 429.5,163.2 433.5,163.7 437.5,165.1 441.5,167.5 446.5,171.4 448.9,175.5 451.2,177.5 451.7,178.5 451.4,179.5 450.5,180.3 446.9,182.5 443.8,185.5 440.9,187.5 434.0,190.5 425.5,192.3 410.5,193.5 405.5,195.0 402.5,196.9 399.2,201.5 395.3,205.5 392.6,207.5 389.5,208.9 384.5,210.3 380.5,210.7 376.5,210.0 373.5,208.7 373.5,195.0 377.5,193.1 384.6,190.5 385.9,189.5 386.5,188.5 388.1,182.5 386.5,180.4 386.2,179.5 386.9,178.5 394.2,174.5 398.7,169.5 403.5,166.7 410.5,164.9 424.5,163.4Z"/><path fill="#ea5220" fill-rule="evenodd" d="M454.5,38.5 460.7,38.5 467.3,39.5 472.0,41.5 472.8,42.5 472.6,43.5 471.1,44.5 469.5,45.0 462.5,45.8 454.5,45.6 448.1,44.5 445.5,43.5 444.3,42.5 444.5,41.2 445.2,40.5 447.7,39.5 454.5,38.5ZM493.5,50.5 508.5,50.2 516.5,50.7 522.1,51.5 525.9,52.5 528.1,53.5 529.0,54.5 528.7,55.5 527.5,56.3 522.5,56.8 504.5,56.8 493.5,55.9 483.6,54.5 481.1,53.5 480.5,52.5 481.9,51.5 483.5,51.2 493.5,50.5ZM529.5,57.5 533.5,57.0 540.5,57.3 552.5,59.0 562.5,62.1 566.5,64.0 570.5,66.5 573.9,69.5 577.2,73.5 579.7,77.5 581.5,81.5 582.1,84.5 582.2,87.5 581.5,90.5 579.9,93.5 575.5,97.9 568.4,102.5 560.5,105.9 552.5,108.1 542.5,109.4 533.5,109.3 525.5,107.8 520.5,105.3 517.5,102.6 515.5,99.9 510.9,90.5 509.1,85.5 508.2,81.5 507.8,77.5 508.1,74.5 509.1,71.5 510.2,69.5 513.9,65.5 519.5,61.9 527.5,58.0 529.5,57.5ZM460.5,146.4 464.5,146.6 467.5,147.7 469.5,149.5 470.5,152.5 469.7,155.5 466.7,158.5 463.5,159.9 459.5,160.3 456.5,159.6 454.5,158.5 452.6,156.5 451.6,153.5 452.5,150.7 454.5,148.7 457.5,147.1 460.5,146.4ZM423.5,164.5 428.5,164.3 432.5,164.8 435.5,165.7 439.0,167.5 443.1,170.5 445.0,172.5 446.1,174.5 449.8,177.5 450.4,178.5 450.1,179.5 449.5,180.0 443.8,183.5 439.5,187.0 433.5,189.7 425.2,191.5 409.5,192.7 403.1,194.5 400.0,196.5 397.2,201.5 394.8,204.5 392.4,206.5 388.5,208.4 384.5,209.5 380.5,209.9 376.5,209.2 373.5,207.8 373.5,196.1 378.5,193.8 388.5,191.6 389.8,190.5 390.1,182.5 387.6,179.5 388.2,178.5 395.6,174.5 399.5,170.4 404.3,167.5 411.5,165.6 423.5,164.5Z"/><path fill="#e94920" fill-rule="evenodd" d="M450.5,39.4 456.5,38.8 463.5,39.3 468.2,40.5 469.9,41.5 470.5,42.5 470.0,43.5 468.5,44.2 464.5,45.0 458.5,45.3 452.5,44.8 447.5,43.6 446.0,42.5 445.9,41.5 447.1,40.5 450.5,39.4ZM487.5,51.4 499.5,50.6 513.5,50.8 519.3,51.5 523.2,52.5 524.9,53.5 524.8,54.5 522.3,55.5 516.5,56.2 498.5,56.0 487.5,54.5 484.2,53.5 483.8,52.5 487.5,51.4ZM531.5,59.4 535.5,58.8 540.5,58.7 551.5,60.0 561.5,63.1 565.5,65.0 569.4,67.5 572.5,70.2 575.3,73.5 577.8,77.5 579.6,81.5 580.1,85.5 579.9,88.5 578.8,91.5 577.5,93.5 573.5,97.5 566.5,102.0 559.5,104.9 551.5,107.0 542.5,108.0 534.5,107.8 527.5,106.4 524.5,105.2 521.7,103.5 518.5,100.5 516.5,97.7 512.5,89.5 511.2,85.5 510.3,80.5 510.2,77.5 510.6,74.5 511.8,71.5 513.0,69.5 517.1,65.5 523.5,61.9 531.5,59.4ZM458.5,148.3 462.5,147.9 465.1,148.5 466.7,149.5 467.6,150.5 468.2,152.5 467.9,154.5 466.5,156.5 463.5,158.3 460.5,158.8 457.5,158.2 454.9,156.5 453.8,154.5 453.8,152.5 454.1,151.5 456.0,149.5 458.5,148.3ZM422.5,165.5 430.5,165.7 433.5,166.4 436.5,167.6 440.7,170.5 442.6,172.5 443.8,174.5 448.4,177.5 449.2,178.5 448.9,179.5 446.5,181.1 441.7,183.5 437.5,186.7 430.5,189.5 423.5,190.8 409.5,191.8 397.5,193.9 395.5,193.9 395.0,193.5 392.4,187.5 392.2,185.5 392.5,183.5 388.9,179.5 389.3,178.5 397.1,174.5 401.4,170.5 405.5,168.2 412.1,166.5 422.5,165.5ZM380.5,194.3 386.5,193.8 394.5,194.5 395.5,196.1 395.9,198.5 395.6,200.5 394.7,202.5 393.1,204.5 390.6,206.5 385.5,208.5 382.5,209.0 379.5,209.0 376.5,208.3 374.5,207.4 373.5,206.8 373.5,197.2 376.5,195.5 380.5,194.3Z"/><path fill="#e74120" fill-rule="evenodd" d="M453.5,39.5 458.5,39.3 463.5,39.9 467.5,41.3 468.3,42.5 467.3,43.5 463.5,44.5 457.5,44.8 452.5,44.3 449.4,43.5 447.7,42.5 447.6,41.5 449.0,40.5 453.5,39.5ZM492.5,51.4 501.5,50.9 512.5,51.1 519.5,52.2 522.2,53.5 521.4,54.5 520.5,54.8 515.5,55.7 499.5,55.7 490.7,54.5 487.5,53.5 487.4,52.5 492.5,51.4ZM534.5,60.4 542.5,60.0 552.5,61.5 561.4,64.5 565.2,66.5 568.5,68.7 571.5,71.5 573.9,74.5 577.8,81.5 578.1,83.5 577.7,88.5 576.6,91.5 575.2,93.5 571.0,97.5 564.4,101.5 557.5,104.2 549.5,106.0 541.5,106.7 533.5,106.1 527.5,104.5 522.4,101.5 520.3,99.5 517.9,96.5 515.7,92.5 514.1,88.5 512.9,84.5 512.4,80.5 512.4,77.5 512.9,74.5 514.3,71.5 515.7,69.5 520.3,65.5 526.5,62.4 534.5,60.4ZM458.5,150.1 461.5,149.6 464.3,150.5 465.7,152.5 465.3,154.5 463.5,156.3 461.5,156.9 459.5,156.9 457.5,156.0 456.2,154.5 456.1,152.5 456.7,151.5 458.5,150.1ZM422.5,166.5 429.5,166.7 434.5,168.1 438.3,170.5 441.7,174.5 446.5,177.1 448.0,178.5 447.8,179.5 446.3,180.5 439.5,183.5 432.8,187.5 428.5,188.8 423.5,189.7 402.5,191.4 399.5,191.3 397.5,190.5 396.3,189.5 394.7,186.5 394.7,183.5 390.0,179.5 390.3,178.5 391.8,177.5 400.6,173.5 403.5,170.7 406.5,169.1 412.5,167.5 422.5,166.5ZM379.5,195.4 385.5,195.1 388.5,195.6 391.0,196.5 392.5,197.6 393.5,199.5 393.0,202.5 390.3,205.5 385.5,207.7 380.5,208.3 377.5,207.8 375.5,207.0 373.5,205.7 373.5,198.3 376.3,196.5 379.5,195.4Z"/><path fill="#e53a20" fill-rule="evenodd" d="M451.5,40.5 456.5,39.8 461.5,40.2 465.6,41.5 466.0,42.5 464.4,43.5 461.5,44.0 454.5,44.0 451.9,43.5 449.7,42.5 449.6,41.5 451.5,40.5ZM496.5,51.5 503.5,51.2 512.5,51.4 518.2,52.5 519.6,53.5 518.2,54.5 513.5,55.2 499.5,55.2 493.8,54.5 490.5,53.5 490.7,52.5 496.5,51.5ZM537.5,61.4 545.5,61.6 554.7,63.5 562.5,66.7 565.5,68.5 569.1,71.5 572.5,75.6 575.5,80.5 576.2,82.5 575.8,87.5 575.2,89.5 573.6,92.5 571.9,94.5 566.8,98.5 560.5,101.7 553.5,103.9 545.5,105.1 538.5,105.2 532.5,104.3 527.3,102.5 522.5,99.1 518.5,94.0 515.6,87.5 514.4,81.5 514.5,77.5 515.2,74.5 516.5,71.9 518.3,69.5 520.5,67.5 523.5,65.5 530.5,62.6 537.5,61.4ZM414.5,168.4 424.5,167.6 428.5,167.8 431.5,168.5 435.5,170.5 438.2,173.5 439.6,174.5 445.9,177.5 446.9,178.5 446.7,179.5 443.5,181.2 434.7,184.5 431.0,186.5 426.5,187.9 421.5,188.7 405.5,189.8 400.5,189.3 398.0,187.5 397.4,186.5 396.9,183.5 392.0,180.5 391.0,179.5 391.3,178.5 393.5,177.2 402.9,173.5 407.5,170.3 410.5,169.2 414.5,168.4ZM379.5,196.3 384.5,196.1 386.9,196.5 389.4,197.5 390.7,198.5 391.7,200.5 391.6,201.5 390.8,203.5 387.5,206.1 383.5,207.4 379.5,207.5 375.5,206.1 373.5,204.2 373.5,199.8 376.2,197.5 379.5,196.3Z"/><path fill="#e23320" fill-rule="evenodd" d="M455.5,40.5 459.1,40.5 461.5,41.0 463.0,41.5 463.3,42.5 459.5,43.5 456.2,43.5 453.5,43.0 452.1,42.5 452.0,41.5 455.5,40.5ZM494.5,52.4 500.5,51.6 508.5,51.6 515.7,52.5 517.0,53.5 514.7,54.5 512.5,54.8 501.5,54.9 497.0,54.5 493.3,53.5 493.8,52.5 494.5,52.4ZM533.5,63.4 541.5,62.7 550.5,63.9 558.4,66.5 565.2,70.5 569.3,74.5 574.1,81.5 574.3,83.5 573.2,88.5 571.1,92.5 566.9,96.5 561.9,99.5 556.5,101.6 549.5,103.3 542.5,103.9 535.5,103.4 529.5,101.6 525.5,99.3 521.5,95.3 518.3,89.5 516.3,82.5 516.8,76.5 518.5,72.5 522.1,68.5 527.0,65.5 533.5,63.4ZM417.5,169.4 425.5,169.0 430.5,170.0 433.2,171.5 435.1,173.5 444.7,177.5 445.9,178.5 445.6,179.5 443.5,180.7 439.5,182.2 424.5,186.4 418.5,187.2 409.5,187.8 405.5,187.9 403.1,187.5 401.4,186.5 400.7,184.5 393.1,180.5 392.0,179.5 392.2,178.5 395.5,176.8 408.4,172.5 412.3,170.5 417.5,169.4ZM378.5,197.5 382.5,196.9 386.5,197.6 389.3,199.5 389.8,200.5 389.7,202.5 388.2,204.5 384.5,206.3 380.5,206.7 377.5,206.1 375.0,204.5 374.3,203.5 374.0,201.5 375.5,199.1 378.5,197.5Z"/><path fill="#e02d20" fill-rule="evenodd" d="M497.5,52.4 502.5,52.0 509.5,52.2 512.6,52.5 514.1,53.5 509.5,54.5 501.8,54.5 496.3,53.5 497.5,52.4ZM536.5,64.5 543.5,64.4 551.5,65.9 558.2,68.5 564.3,72.5 570.5,79.1 572.1,81.5 572.4,82.5 570.3,89.5 568.3,92.5 563.7,96.5 558.5,99.2 552.5,101.2 545.5,102.3 539.5,102.3 534.3,101.5 529.5,99.7 525.5,96.9 521.8,92.5 519.2,86.5 518.1,81.5 519.3,75.5 521.7,71.5 525.5,68.3 530.5,65.9 536.5,64.5ZM418.5,171.3 425.5,171.5 430.5,172.9 443.5,177.4 444.8,178.5 444.6,179.5 441.5,181.0 434.5,183.1 418.5,186.1 407.5,185.0 402.5,183.8 394.2,180.5 392.9,179.5 393.0,178.5 395.5,177.1 402.5,174.8 414.5,171.9 418.5,171.3ZM378.5,198.5 382.5,197.9 385.5,198.5 387.2,199.5 388.0,200.5 388.1,202.5 386.3,204.5 384.0,205.5 381.5,205.9 378.5,205.5 376.5,204.4 375.3,202.5 375.7,200.5 376.7,199.5 378.5,198.5Z"/><path fill="#dd2920" fill-rule="evenodd" d="M500.5,53.3 502.5,52.6 504.5,52.5 510.0,53.5 503.5,53.8 500.1,53.5 500.5,53.3ZM535.5,66.4 542.5,66.1 550.5,67.7 557.5,70.8 564.5,75.7 568.5,79.5 570.2,81.5 570.4,82.5 568.8,86.5 565.9,91.5 562.8,94.5 557.7,97.5 552.5,99.4 546.5,100.5 540.5,100.7 535.5,100.0 531.3,98.5 527.5,96.1 524.5,92.9 522.4,89.5 520.0,82.5 520.2,80.5 521.7,75.5 524.6,71.5 529.5,68.2 535.5,66.4ZM416.5,172.3 418.5,172.0 430.5,173.9 439.5,176.3 442.5,177.5 443.9,178.5 443.7,179.5 442.5,180.2 437.5,181.9 419.5,185.4 416.5,185.3 403.5,183.3 395.5,180.7 393.7,179.5 393.8,178.5 396.5,177.1 400.5,175.8 416.5,172.3ZM379.5,199.3 382.5,199.0 384.5,199.5 385.8,200.5 386.3,201.5 386.2,202.5 385.4,203.5 383.5,204.5 380.5,204.8 378.5,204.3 377.4,203.5 376.8,202.5 376.9,201.5 377.5,200.4 379.5,199.3Z"/><path fill="#da2620" fill-rule="evenodd" d="M535.5,68.5 541.5,68.2 548.5,69.1 549.5,69.5 555.5,72.4 561.5,76.1 567.3,80.5 568.4,81.5 568.6,82.5 565.1,87.5 560.6,92.5 558.0,94.5 554.1,96.5 549.5,97.9 543.5,98.8 538.5,98.6 533.5,97.2 529.5,95.0 526.2,91.5 522.5,84.1 521.9,81.5 524.5,75.5 526.5,72.9 530.5,70.1 535.5,68.5ZM413.5,173.4 418.5,172.5 427.5,173.8 437.5,176.1 440.5,177.0 443.1,178.5 442.8,179.5 438.5,181.3 431.5,182.9 418.5,185.2 405.5,183.2 396.5,180.7 394.4,179.5 394.5,178.5 396.5,177.4 401.5,175.8 413.5,173.4ZM379.5,201.3 381.5,200.5 382.5,200.7 383.6,201.5 383.5,202.5 381.5,203.3 380.5,203.2 379.3,202.5 379.5,201.3Z"/><path fill="#d5231e" fill-rule="evenodd" d="M535.5,71.3 548.5,70.9 563.5,79.2 566.5,81.5 566.8,82.5 564.5,85.0 557.5,90.8 553.5,93.4 549.5,95.3 548.5,95.7 541.5,96.3 535.5,95.3 532.0,93.5 529.5,91.4 525.5,85.4 524.1,82.5 524.1,81.5 525.0,79.5 528.5,75.0 531.5,72.7 535.5,71.3ZM415.5,173.3 418.5,172.7 430.5,174.8 439.5,177.0 442.3,178.5 442.1,179.5 438.5,181.0 418.5,185.0 406.5,183.1 397.5,180.8 395.1,179.5 395.1,178.5 397.5,177.3 401.5,176.1 415.5,173.3Z"/><path fill="#ce201b" fill-rule="evenodd" d="M547.5,72.3 548.5,72.2 561.7,79.5 564.3,81.5 564.6,82.5 564.0,83.5 561.5,85.5 548.5,93.4 539.5,92.2 535.5,91.0 530.5,87.6 526.2,82.5 526.3,81.5 528.5,78.8 532.5,76.0 536.5,74.6 543.5,73.4 547.5,72.3ZM416.5,173.3 418.5,172.9 430.5,175.0 438.5,177.0 441.6,178.5 441.3,179.5 437.5,181.0 418.5,184.7 403.5,182.2 397.6,180.5 395.8,179.5 395.8,178.5 397.6,177.5 402.5,176.0 416.5,173.3Z"/><path fill="#c71e18" fill-rule="evenodd" d="M547.5,73.4 548.5,73.4 560.5,80.1 562.4,81.5 562.6,82.5 559.5,85.2 548.5,91.9 547.5,91.8 534.5,86.9 530.5,84.5 528.3,82.5 528.5,81.5 529.5,80.5 533.5,78.2 547.5,73.4ZM417.5,173.3 418.5,173.1 434.5,176.1 439.2,177.5 440.8,178.5 440.6,179.5 438.4,180.5 433.5,181.8 418.5,184.5 402.5,181.7 398.5,180.6 396.5,179.5 396.5,178.5 398.3,177.5 403.5,176.0 417.5,173.3Z"/><path fill="#bc1c17" fill-rule="evenodd" d="M547.5,74.5 548.5,74.3 559.5,80.3 561.3,81.5 561.5,82.5 559.5,84.1 548.5,90.6 547.5,90.5 535.5,85.6 531.7,83.5 530.7,82.5 530.9,81.5 534.0,79.5 547.5,74.5ZM418.5,173.3 428.5,175.1 437.5,177.2 440.1,178.5 439.9,179.5 437.5,180.5 432.5,181.8 418.5,184.3 404.5,182.0 399.5,180.6 397.2,179.5 397.3,178.5 399.0,177.5 408.5,175.1 418.5,173.3Z"/><path fill="#b11b16" fill-rule="evenodd" d="M546.5,75.5 548.5,74.8 559.0,80.5 560.5,81.5 560.7,82.5 548.5,89.8 537.5,85.0 533.4,82.5 533.6,81.5 536.5,79.8 546.5,75.5ZM413.5,174.4 418.5,173.5 433.5,176.3 437.6,177.5 439.3,178.5 439.0,179.5 436.8,180.5 432.5,181.6 418.5,184.2 415.5,183.8 403.5,181.5 399.8,180.5 398.0,179.5 398.1,178.5 399.8,177.5 413.5,174.4Z"/><path fill="#a61915" fill-rule="evenodd" d="M547.5,75.3 548.5,75.1 558.2,80.5 559.7,81.5 559.9,82.5 549.5,88.8 548.5,89.3 547.5,89.1 536.5,83.7 534.8,82.5 535.0,81.5 535.5,81.2 547.5,75.3ZM414.5,174.3 418.5,173.7 422.5,174.4 433.4,176.5 436.8,177.5 438.4,178.5 438.1,179.5 436.0,180.5 432.1,181.5 418.5,184.0 415.5,183.6 404.2,181.5 400.7,180.5 398.9,179.5 399.0,178.5 400.7,177.5 414.5,174.3Z"/><path fill="#971713" fill-rule="evenodd" d="M548.5,75.5 557.4,80.5 558.8,81.5 559.0,82.5 548.5,88.9 547.5,88.8 535.7,82.5 536.0,81.5 537.6,80.5 547.5,75.7 548.5,75.5ZM414.5,174.5 418.5,173.9 421.5,174.3 432.5,176.5 435.8,177.5 437.4,178.5 437.1,179.5 435.0,180.5 431.2,181.5 419.5,183.7 416.5,183.7 405.2,181.5 401.7,180.5 399.9,179.5 400.0,178.5 401.7,177.5 414.5,174.5Z"/><path fill="#831412" fill-rule="evenodd" d="M547.5,76.1 548.5,75.9 556.4,80.5 557.9,81.5 558.1,82.5 548.6,88.5 547.5,88.4 536.6,82.5 536.9,81.5 538.5,80.5 547.5,76.1ZM415.5,174.5 418.5,174.0 426.8,175.5 434.7,177.5 436.3,178.5 436.0,179.5 433.8,180.5 419.5,183.6 417.5,183.7 411.2,182.5 402.8,180.5 401.0,179.5 401.0,178.5 402.7,177.5 406.0,176.5 415.5,174.5Z"/><path fill="#6f1110" fill-rule="evenodd" d="M547.5,76.5 548.5,76.3 555.6,80.5 557.0,81.5 557.2,82.5 548.5,88.1 547.5,87.9 537.7,82.5 537.9,81.5 547.5,76.5ZM416.5,174.5 418.5,174.2 425.7,175.5 433.5,177.5 435.1,178.5 434.8,179.5 432.6,180.5 418.5,183.6 407.5,181.5 403.9,180.5 402.5,179.7 402.1,179.5 402.1,178.5 403.9,177.5 407.2,176.5 416.5,174.5Z"/><path fill="#560d0d" fill-rule="evenodd" d="M546.5,77.5 548.5,76.7 556.1,81.5 556.3,82.5 548.5,87.7 547.5,87.5 538.7,82.5 539.0,81.5 546.5,77.5ZM417.5,174.4 419.5,174.5 424.5,175.5 432.3,177.5 433.9,178.5 433.6,179.5 428.5,181.3 418.5,183.4 405.2,180.5 403.3,179.5 403.3,178.5 405.0,177.5 417.5,174.4Z"/><path fill="#3b0909" fill-rule="evenodd" d="M547.5,77.3 548.5,77.1 554.0,80.5 555.4,81.5 555.6,82.5 548.5,87.3 547.5,87.1 539.8,82.5 540.0,81.5 547.5,77.3ZM414.5,175.4 418.5,174.5 428.5,176.7 431.1,177.5 432.7,178.5 432.5,179.5 430.2,180.5 418.5,183.3 417.5,183.1 408.5,181.1 404.4,179.5 404.3,178.5 406.2,177.5 414.5,175.4Z"/><path fill="#1f0606" fill-rule="evenodd" d="M548.5,77.5 554.6,81.5 554.8,82.5 548.5,86.9 547.5,86.7 540.7,82.5 540.9,81.5 542.4,80.5 547.5,77.6 548.5,77.5ZM415.5,175.3 418.5,174.7 419.5,174.9 428.5,177.0 431.6,178.5 431.4,179.5 429.1,180.5 418.5,183.1 417.5,182.9 408.5,180.8 405.4,179.5 405.3,178.5 407.2,177.5 415.5,175.3Z"/><path fill="#100404" fill-rule="evenodd" d="M547.5,78.0 548.5,77.8 552.7,80.5 554.0,81.5 554.2,82.5 548.5,86.5 547.5,86.4 541.5,82.5 541.7,81.5 547.5,78.0ZM416.5,175.3 418.5,174.9 427.5,177.1 430.6,178.5 430.4,179.5 427.5,180.7 418.5,182.9 408.6,180.5 406.4,179.5 406.3,178.5 408.5,177.4 416.5,175.3Z"/><path fill="#0f0404" fill-rule="evenodd" d="M547.5,78.3 548.5,78.1 552.2,80.5 553.4,81.5 553.6,82.5 548.5,86.3 547.5,86.1 542.2,82.5 542.4,81.5 547.5,78.3ZM416.5,175.5 418.5,175.0 427.5,177.4 429.7,178.5 429.4,179.5 427.1,180.5 418.5,182.7 409.5,180.5 407.3,179.5 407.2,178.5 409.1,177.5 416.5,175.5Z"/>
<mask id="lm"><rect x="370" y="10" width="230" height="220" fill="#fff"/><rect x="396" y="41.6" width="20.5" height="10" fill="#000"/><rect x="448.6" y="187.5" width="15.6" height="11.5" fill="#000"/></mask>
<path fill="none" stroke="#2a2a2a" stroke-width="0.8" mask="url(#lm)" d="M593.5,51.7 572.8,47.5 554.5,42.9 547.2,41.5 512.5,40.1 504.5,40.2 487.5,35.0 472.5,31.6 463.5,30.5 454.5,30.3 447.5,30.6 430.5,32.2 414.5,36.8 409.5,38.0 407.5,38.8 404.5,41.0 400.5,44.6 400.1,45.5 400.5,46.6 402.3,47.5 410.5,50.2 417.5,50.6 430.7,54.5 456.5,61.1 462.5,63.6 469.5,68.9 470.5,70.1 471.5,71.7 472.6,74.5 473.0,81.5 472.2,86.5 468.9,98.5 467.3,107.5 466.5,115.7 465.5,117.5 464.0,118.5 442.9,130.5 430.5,136.6 419.4,142.5 406.2,147.5 397.3,152.5 390.0,157.5 383.5,162.6 376.5,170.5 375.4,171.5 373.5,172.5 M373.5,222.5 381.5,222.3 388.5,219.9 397.5,218.1 410.5,212.9 419.5,208.7 423.5,207.5 429.5,206.1 436.5,202.8 447.4,198.5 451.0,196.5 465.6,186.5 475.1,180.5 479.5,177.4 484.5,173.0 487.5,169.3 492.4,161.5 499.9,145.5 502.1,142.5 504.5,140.6 532.5,135.2 540.5,133.1 570.5,122.8 583.5,115.2 587.5,113.3 593.5,111.0"/>
<path stroke="#64aadc" stroke-opacity="0.75" stroke-width="1.1" d="M504.5 16.5V223.6"/>
</g>
<path fill="none" stroke="#3c3c3c" stroke-width="1.05" d="M375.4 16.3H591.5V223.4H375.4ZM386.3 223.4v3.8M397.1 223.4v2.2M407.9 223.4v3.8M418.7 223.4v2.2M429.5 223.4v3.8M440.3 223.4v2.2M451.1 223.4v3.8M461.9 223.4v2.2M472.7 223.4v3.8M483.6 223.4v2.2M494.4 223.4v3.8M505.2 223.4v2.2M516.0 223.4v3.8M526.8 223.4v2.2M537.6 223.4v3.8M548.4 223.4v2.2M559.2 223.4v3.8M570.0 223.4v2.2M580.8 223.4v3.8M591.6 223.4v2.2M375.4 223.6h-4.3M375.4 208.8h-2.2M375.4 194.0h-4.3M375.4 179.2h-2.2M375.4 164.4h-4.3M375.4 149.6h-2.2M375.4 134.8h-4.3M375.4 120.0h-2.2M375.4 105.3h-4.3M375.4 90.5h-2.2M375.4 75.7h-4.3M375.4 60.9h-2.2M375.4 46.1h-4.3M375.4 31.3h-2.2M375.4 16.5h-4.3"/>
<text x="386.3" y="236.6" font-size="8.6" text-anchor="middle">1.8</text>
<text x="407.9" y="236.6" font-size="8.6" text-anchor="middle">2.0</text>
<text x="429.5" y="236.6" font-size="8.6" text-anchor="middle">2.2</text>
<text x="451.1" y="236.6" font-size="8.6" text-anchor="middle">2.4</text>
<text x="472.7" y="236.6" font-size="8.6" text-anchor="middle">2.6</text>
<text x="494.4" y="236.6" font-size="8.6" text-anchor="middle">2.8</text>
<text x="516.0" y="236.6" font-size="8.6" text-anchor="middle">3.0</text>
<text x="537.6" y="236.6" font-size="8.6" text-anchor="middle">3.2</text>
<text x="559.2" y="236.6" font-size="8.6" text-anchor="middle">3.4</text>
<text x="580.8" y="236.6" font-size="8.6" text-anchor="middle">3.6</text>
<text x="367.5" y="226.5" font-size="8.6" text-anchor="end">5.2</text>
<text x="367.5" y="196.9" font-size="8.6" text-anchor="end">5.3</text>
<text x="367.5" y="167.3" font-size="8.6" text-anchor="end">5.4</text>
<text x="367.5" y="137.7" font-size="8.6" text-anchor="end">5.5</text>
<text x="367.5" y="108.2" font-size="8.6" text-anchor="end">5.6</text>
<text x="367.5" y="78.6" font-size="8.6" text-anchor="end">5.7</text>
<text x="367.5" y="49.0" font-size="8.6" text-anchor="end">5.8</text>
<text x="367.5" y="19.4" font-size="8.6" text-anchor="end">5.9</text>
<text x="483" y="253.6" font-size="10.8" text-anchor="middle"><tspan font-style="italic">D</tspan> (mm)</text>
<text transform="translate(352.3,119.2) rotate(-90)" font-size="10" font-weight="bold" text-anchor="middle">Frequency (GHz)</text>
<text x="548.0" y="207.4" font-size="24.2" style="stroke-width:0.3px">(b)</text>
<rect x="626.4" y="16.40" width="11.0" height="4.43" fill="#ffffff"/><rect x="626.4" y="20.53" width="11.0" height="4.43" fill="#fefefe"/><rect x="626.4" y="24.66" width="11.0" height="4.43" fill="#fefdf5"/><rect x="626.4" y="28.80" width="11.0" height="4.43" fill="#fcfae0"/><rect x="626.4" y="32.93" width="11.0" height="4.43" fill="#faf6cb"/><rect x="626.4" y="37.06" width="11.0" height="4.43" fill="#f9f3b6"/><rect x="626.4" y="41.19" width="11.0" height="4.43" fill="#f7f09d"/><rect x="626.4" y="45.32" width="11.0" height="4.43" fill="#f5ed83"/><rect x="626.4" y="49.46" width="11.0" height="4.43" fill="#f4ea6b"/><rect x="626.4" y="53.59" width="11.0" height="4.43" fill="#f3e855"/><rect x="626.4" y="57.72" width="11.0" height="4.43" fill="#f2e647"/><rect x="626.4" y="61.85" width="11.0" height="4.43" fill="#f1e439"/><rect x="626.4" y="65.98" width="11.0" height="4.43" fill="#f0e128"/><rect x="626.4" y="70.12" width="11.0" height="4.43" fill="#f1de1e"/><rect x="626.4" y="74.25" width="11.0" height="4.43" fill="#f3db1b"/><rect x="626.4" y="78.38" width="11.0" height="4.43" fill="#f5d718"/><rect x="626.4" y="82.51" width="11.0" height="4.43" fill="#f6d118"/><rect x="626.4" y="86.64" width="11.0" height="4.43" fill="#f8ca18"/><rect x="626.4" y="90.78" width="11.0" height="4.43" fill="#f8bf18"/><rect x="626.4" y="94.91" width="11.0" height="4.43" fill="#f7b319"/><rect x="626.4" y="99.04" width="11.0" height="4.43" fill="#f6a91a"/><rect x="626.4" y="103.17" width="11.0" height="4.43" fill="#f5a01c"/><rect x="626.4" y="107.30" width="11.0" height="4.43" fill="#f4961e"/><rect x="626.4" y="111.44" width="11.0" height="4.43" fill="#f28c1f"/><rect x="626.4" y="115.57" width="11.0" height="4.43" fill="#f18120"/><rect x="626.4" y="119.70" width="11.0" height="4.43" fill="#ef7720"/><rect x="626.4" y="123.83" width="11.0" height="4.43" fill="#ee6e20"/><rect x="626.4" y="127.96" width="11.0" height="4.43" fill="#ec6520"/><rect x="626.4" y="132.10" width="11.0" height="4.43" fill="#eb5b20"/><rect x="626.4" y="136.23" width="11.0" height="4.43" fill="#ea5220"/><rect x="626.4" y="140.36" width="11.0" height="4.43" fill="#e94920"/><rect x="626.4" y="144.49" width="11.0" height="4.43" fill="#e74120"/><rect x="626.4" y="148.62" width="11.0" height="4.43" fill="#e53a20"/><rect x="626.4" y="152.76" width="11.0" height="4.43" fill="#e23320"/><rect x="626.4" y="156.89" width="11.0" height="4.43" fill="#e02d20"/><rect x="626.4" y="161.02" width="11.0" height="4.43" fill="#dd2920"/><rect x="626.4" y="165.15" width="11.0" height="4.43" fill="#da2620"/><rect x="626.4" y="169.28" width="11.0" height="4.43" fill="#d5231e"/><rect x="626.4" y="173.42" width="11.0" height="4.43" fill="#ce201b"/><rect x="626.4" y="177.55" width="11.0" height="4.43" fill="#c71e18"/><rect x="626.4" y="181.68" width="11.0" height="4.43" fill="#bc1c17"/><rect x="626.4" y="185.81" width="11.0" height="4.43" fill="#b11b16"/><rect x="626.4" y="189.94" width="11.0" height="4.43" fill="#a61915"/><rect x="626.4" y="194.08" width="11.0" height="4.43" fill="#971713"/><rect x="626.4" y="198.21" width="11.0" height="4.43" fill="#831412"/><rect x="626.4" y="202.34" width="11.0" height="4.43" fill="#6f1110"/><rect x="626.4" y="206.47" width="11.0" height="4.43" fill="#560d0d"/><rect x="626.4" y="210.60" width="11.0" height="4.43" fill="#3b0909"/><rect x="626.4" y="214.74" width="11.0" height="4.43" fill="#1f0606"/><rect x="626.4" y="218.87" width="11.0" height="4.43" fill="#100404"/>
<rect x="626.4" y="16.4" width="11.0" height="206.6" fill="none" stroke="#3a3a3a" stroke-width="0.9"/>
<text x="643.9" y="23.0" font-size="9.3">0.0</text>
<text x="643.9" y="47.9" font-size="9.3">-3.8</text>
<text x="643.9" y="72.7" font-size="9.3">-7.5</text>
<text x="643.9" y="97.6" font-size="9.3">-11</text>
<text x="643.9" y="122.4" font-size="9.3">-15</text>
<text x="643.9" y="147.3" font-size="9.3">-19</text>
<text x="643.9" y="172.2" font-size="9.3">-23</text>
<text x="643.9" y="197.0" font-size="9.3">-26</text>
<text x="643.9" y="221.9" font-size="9.3">-30</text>
<path stroke="#3a3a3a" stroke-width="1" d="M637.8 20.4h3.8M637.8 45.3h3.8M637.8 70.1h3.8M637.8 95.0h3.8M637.8 119.8h3.8M637.8 144.7h3.8M637.8 169.6h3.8M637.8 194.4h3.8M637.8 219.3h3.8"/>
<text x="632" y="8.9" font-size="11" text-anchor="middle">S11 (dB)</text>
<text x="401.6" y="50.4" font-size="10.5">-10</text>
<text x="449.4" y="196.7" font-size="10.5">-10</text>
</svg></body></html>
